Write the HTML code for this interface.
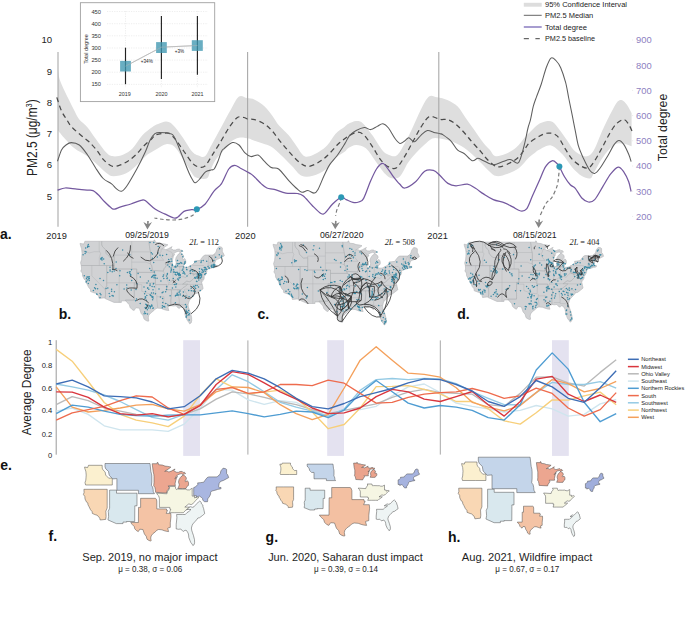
<!DOCTYPE html>
<html><head><meta charset="utf-8"><title>figure</title>
<style>html,body{margin:0;padding:0;background:#fff;} svg{display:block;} text{font-family:"Liberation Sans",sans-serif;}</style>
</head><body>
<svg width="685" height="618" viewBox="0 0 685 618">
<rect width="685" height="618" fill="#fff"/>
<path d="M58,69.7 C58.3,71.3 58.6,75.8 59.7,79.4 C60.8,83 63,87.5 64.6,91.1 C66.2,94.7 67.8,97.6 69.4,100.8 C71,104 72.7,107.4 74.3,110.5 C75.9,113.6 76.9,116.4 79.1,119.2 C81.3,122 84.7,124 87.4,127.2 C90.1,130.4 92.3,134.2 95.5,138.5 C98.7,142.8 103.8,150.1 106.8,153.1 C109.8,156.1 110.6,156 113.3,156.3 C116,156.6 119.8,156 123,154.7 C126.2,153.4 129.5,151.5 132.7,148.3 C135.9,145.1 139.2,138.8 142.4,135.3 C145.6,131.8 149.5,129.1 152.1,127.2 C154.7,125.3 155.8,124.9 158.1,124 C160.4,123.1 163.8,121.5 166.2,121.6 C168.6,121.7 170,122.2 172.7,124.8 C175.4,127.3 179.2,132.5 182.4,136.9 C185.6,141.3 189.4,148.4 192.1,151.5 C194.8,154.6 196.3,154.7 198.5,155.5 C200.7,156.3 202.8,158.1 205,156.3 C207.2,154.6 208.8,149.8 211.5,145 C214.2,140.2 218,133.1 221.2,127.2 C224.4,121.3 227.9,114.5 230.9,109.4 C233.9,104.3 236.3,98.4 239,96.5 C241.7,94.6 244.5,97.6 247.1,98.1 C249.7,98.6 251.8,98.3 254.7,99.7 C257.6,101.1 261.4,103.5 264.4,106.2 C267.4,108.9 270.1,112.7 272.5,115.9 C274.9,119.1 276.3,122.4 279,125.6 C281.7,128.8 285.7,131.8 288.7,135.3 C291.7,138.8 294.4,143.2 296.8,146.6 C299.2,150 301.2,153.9 303.3,155.5 C305.4,157.1 307,157 309.7,156.3 C312.4,155.6 316.4,153.4 319.4,151.5 C322.4,149.6 324.8,148 327.5,145 C330.2,142 332.7,136.8 335.6,133.7 C338.5,130.6 342.9,128 345,126.4 C347.1,124.8 346.2,124.9 348.1,124 C350,123.1 353.8,121.2 356.2,121.1 C358.6,121 360,120.8 362.7,123.2 C365.4,125.6 369.2,130.9 372.4,135.3 C375.6,139.8 379.4,146.7 382.1,149.9 C384.8,153.1 386.1,153.8 388.5,154.7 C390.9,155.6 393.9,157.4 396.6,155.5 C399.3,153.6 402,148.1 404.7,143.4 C407.4,138.7 410.1,132.9 412.8,127.2 C415.5,121.5 418.2,114.5 420.9,109.4 C423.6,104.3 426.3,98.5 429,96.5 C431.7,94.5 434,96.7 437.1,97.3 C440.2,97.9 444.5,98.7 447.9,100.2 C451.3,101.8 454.7,103.6 457.7,106.6 C460.7,109.6 463,114.2 465.7,118 C468.4,121.8 470.8,125.1 473.8,129.3 C476.8,133.5 480.8,139.6 483.5,143 C486.2,146.4 488.1,147.8 490,150 C491.9,152.2 492.5,155.2 494.9,155.9 C497.3,156.6 501.1,155.7 504.6,154.3 C508.1,153 512.4,150.8 515.9,147.8 C519.4,144.8 522.9,139.5 525.6,136.5 C528.3,133.5 530,132 532.1,130 C534.2,128 535.8,125.9 538.1,124.4 C540.5,122.9 543.8,121.6 546.2,121.2 C548.6,120.8 550.6,120.7 552.7,122 C554.9,123.3 556.7,126.2 559.1,129.3 C561.5,132.4 564.8,137.2 567.2,140.6 C569.6,144 571,147.4 573.7,150 C576.4,152.6 580.7,155.2 583.4,156 C586.1,156.8 588.1,156.3 590,155 C591.9,153.7 593.1,151.6 595,148 C596.9,144.4 598.6,139 601.2,133.2 C603.9,127.4 608.2,118.3 610.9,113.1 C613.6,107.9 615.5,103.9 617.4,101.8 C619.3,99.7 620.6,99.7 622.2,100.2 C623.8,100.7 625.5,102.8 627.1,105 C628.7,107.2 630.9,111.8 631.6,113.1 L631.6,146.2 C630.3,145.8 626.5,144.2 623.9,143.8 C621.3,143.4 618.5,142.6 615.8,143.8 C613.1,145 610.4,147.9 607.7,151 C605,154.1 602,158.5 599.6,162.4 C597.2,166.3 594.7,171.8 593.1,174.5 C591.5,177.2 591.8,178.2 589.9,178.5 C588,178.8 584.8,178 581.8,176.1 C578.8,174.2 575.3,170.8 572.1,167.2 C568.9,163.6 565.9,157.9 562.4,154.3 C558.9,150.7 554.8,146.2 551,145.4 C547.2,144.6 542.4,148.2 539.7,149.4 C537,150.6 536.8,151.3 535,152.7 C533.2,154 531.5,154.9 528.9,157.5 C526.2,160.1 522.6,165.3 519.1,168 C515.6,170.7 511.6,172.3 507.8,173.7 C504,175 499.7,176.6 496.5,176.1 C493.3,175.6 491.6,173.3 488.4,170.5 C485.2,167.7 481.2,162.9 477.1,159.1 C473.1,155.3 468.4,150.8 464.1,147.8 C459.8,144.8 455.2,142.9 451.2,141.3 C447.2,139.8 443.2,139 440,138.5 C436.8,138 434.8,137.4 432.2,138.5 C429.6,139.6 426.8,142.6 424.1,145 C421.4,147.4 418.7,150.1 416,153.1 C413.3,156.1 410.7,158.9 408,162.8 C405.3,166.7 402.6,174 399.9,176.6 C397.2,179.2 394.2,178.6 391.8,178.2 C389.4,177.8 388,176.9 385.3,174.1 C382.6,171.3 378.8,165.5 375.6,161.2 C372.4,156.9 369.1,151 365.9,148.3 C362.7,145.6 359.2,145 356.2,145 C353.2,145 350,147.2 348.1,148.3 C346.2,149.4 347.1,149.9 345,151.5 C342.9,153.1 338.8,155 335.6,158 C332.4,161 329.7,166.3 325.9,169.3 C322.1,172.3 317.1,174.7 313,175.8 C308.9,176.9 305.1,177.4 301.6,175.8 C298.1,174.2 295.4,169.5 291.9,166 C288.4,162.5 284.1,157.9 280.6,154.7 C277.1,151.5 273.9,148.5 270.9,146.6 C267.9,144.7 265.8,144.5 262.8,143.4 C259.8,142.3 255.4,141 253.1,140.2 C250.8,139.4 251,138.9 248.7,138.5 C246.3,138.1 242,137.1 239,137.7 C236,138.2 233.6,139.5 230.9,141.8 C228.2,144.1 225.5,148.3 222.8,151.5 C220.1,154.7 216.8,157.8 214.7,161.2 C212.6,164.6 211.3,169.1 210,172 C208.7,174.9 208.9,177.6 206.6,178.5 C204.3,179.4 198.7,178.8 196,177.5 C193.3,176.2 192.8,174.2 190.5,170.9 C188.2,167.7 185.1,162.1 182.4,158 C179.7,153.9 177,148.9 174.3,146.6 C171.6,144.3 168.9,143.9 166.2,144.2 C163.5,144.5 160.8,146.8 158.1,148.3 C155.4,149.8 152.1,151.8 150,153.1 C147.9,154.4 147.9,154.2 145.6,156.3 C143.2,158.5 139.1,163.2 135.9,166 C132.7,168.8 129.9,171.6 126.2,173.3 C122.5,175 116.6,176.3 113.4,176.3 C110.2,176.3 109.5,175.3 106.8,173.3 C104.1,171.3 100.3,167.2 97.1,164.4 C93.9,161.6 91.2,159 87.4,156.3 C83.6,153.6 78.2,151.3 74.4,148.3 C70.6,145.3 67.4,141.5 64.7,138.5 C62,135.5 59.1,131.8 58,130.5 Z" fill="#dedede" stroke="none"/>
<line x1="58" y1="52" x2="58" y2="226.8" stroke="#a9a9a9" stroke-width="1.1"/>
<line x1="247.6" y1="52" x2="247.6" y2="226.8" stroke="#a9a9a9" stroke-width="1.1"/>
<line x1="438.8" y1="52" x2="438.8" y2="226.8" stroke="#a9a9a9" stroke-width="1.1"/>
<path d="M56.8,97.4 C57.6,99.7 59.9,107.4 61.5,111 C63.1,114.6 64.9,116.6 66.5,119.2 C68.1,121.8 68.8,123.7 71.2,126.4 C73.6,129.1 77.9,132.7 80.9,135.3 C83.9,137.9 86.3,139.2 89,141.8 C91.7,144.4 94.7,147.7 97.1,150.7 C99.5,153.7 101.1,157 103.5,159.6 C105.9,162.2 108.9,165.1 111.6,166 C114.3,166.9 117,166 119.7,165.2 C122.4,164.4 125.1,162.9 127.8,161.2 C130.5,159.4 133.2,157.3 135.9,154.7 C138.6,152.1 141.3,148.5 144,145.8 C146.7,143.1 150.2,140.2 152,138.5 C153.8,136.8 153.3,136.1 154.9,135.3 C156.5,134.5 158.9,134 161.3,133.7 C163.7,133.4 167,132.3 169.4,133.4 C171.8,134.5 173.5,137.2 175.9,140.2 C178.3,143.2 181.3,147.7 184,151.5 C186.7,155.3 189.7,160.2 192.1,162.8 C194.5,165.4 196.3,166.4 198.5,166.9 C200.7,167.4 202.8,167.8 205,166 C207.2,164.2 209.1,160.1 211.5,156.3 C213.9,152.5 216.6,148.2 219.6,143.4 C222.6,138.6 226.3,131.5 229.3,127.2 C232.3,122.9 235,119.1 237.4,117.5 C239.8,115.9 242.2,117.2 243.9,117.5 C245.7,117.8 246.1,118.8 247.9,119.1 C249.7,119.4 251.9,118.8 254.7,119.6 C257.4,120.4 261.4,122 264.4,124 C267.4,126 269.8,128.3 272.5,131.3 C275.2,134.3 277.6,138.2 280.6,141.8 C283.6,145.4 287.1,149.6 290.3,153.1 C293.5,156.6 297,160.6 300,162.8 C303,165 305.1,166.4 308.1,166.4 C311.1,166.4 314.6,164.6 317.8,162.8 C321,161 324.3,158.5 327.5,155.5 C330.7,152.5 334.3,147.8 337.2,145 C340.1,142.2 342.9,140.1 345,138.5 C347.1,136.9 347.6,136.4 349.7,135.3 C351.8,134.2 355.4,132.1 357.8,132.1 C360.2,132.1 361.9,132.9 364.3,135.3 C366.7,137.7 369.7,142.6 372.4,146.6 C375.1,150.6 377.8,156.2 380.5,159.6 C383.2,163 385.8,165.6 388.5,166.9 C391.2,168.2 393.9,169.5 396.6,167.7 C399.3,165.9 402,160.6 404.7,156.3 C407.4,152 410.1,146.7 412.8,141.8 C415.5,137 418.2,131.4 420.9,127.2 C423.6,123 426.3,118.2 429,116.7 C431.7,115.2 435,117.8 437.1,118.3 C439.2,118.8 439.7,119.4 441.5,119.6 C443.3,119.8 445.5,118.8 447.9,119.6 C450.3,120.4 453.3,122.2 456,124.4 C458.7,126.6 461.4,129.5 464.1,132.5 C466.8,135.5 469.5,139.1 472.2,142.2 C474.9,145.3 478,148.4 480.3,151 C482.6,153.6 483.8,155.7 486,158 C488.2,160.3 491,163.3 493.3,164.8 C495.6,166.3 496.8,167.3 499.7,166.9 C502.6,166.5 507.8,164.1 511,162.4 C514.2,160.7 516.7,159.1 519.1,156.7 C521.5,154.3 523.8,150.2 525.6,147.8 C527.4,145.4 527.6,144.2 530,142.2 C532.4,140.2 537,137.5 539.7,136 C542.4,134.5 544.3,133.8 546.2,133.3 C548.1,132.8 549.5,133 551,133.2 C552.5,133.4 553.6,133.7 555,134.5 C556.4,135.3 557.3,135.6 559.1,138.1 C560.9,140.6 563.4,145.9 565.6,149.4 C567.8,152.9 569.7,156.4 572.1,159.1 C574.5,161.8 577.5,164.1 580.2,165.6 C582.9,167.1 585.9,168.8 588.3,168 C590.7,167.2 592.6,163.8 594.7,160.7 C596.9,157.6 599,153.3 601.2,149.4 C603.4,145.5 605.3,141.2 607.7,137 C610.1,132.8 613.1,127.3 615.8,124.4 C618.5,121.5 621.8,119.6 623.9,119.6 C626,119.6 627.4,122.5 628.7,124.4 C630,126.3 631.4,129.8 631.9,130.9" fill="none" stroke="#4a4a4a" stroke-width="1.25" stroke-dasharray="5 3.6"/>
<path d="M57.5,161.2 C58.2,159.3 60.1,152.6 61.5,149.9 C62.9,147.2 64.4,146.2 66,145 C67.6,143.8 69,142.6 71.2,142.6 C73.4,142.6 76.6,143 79.3,145 C82,147 84.7,150.9 87.4,154.7 C90.1,158.5 92.9,163.7 95.5,167.7 C98.1,171.7 100.5,175.8 103.2,178.5 C105.9,181.2 109.4,182.2 111.6,183.9 C113.8,185.6 114.7,187.5 116.3,188.7 C117.9,189.9 119.7,191.7 121.4,191.3 C123.1,190.9 123.9,190.2 126.5,186.5 C129.1,182.8 133.6,174.8 136.8,169 C140,163.2 143.3,156.3 145.5,151.5 C147.7,146.7 148.4,143.2 150,140.2 C151.6,137.2 153.3,135 154.9,133.7 C156.5,132.4 157.3,132.4 159.7,132.4 C162.1,132.4 167,132.7 169.4,133.4 C171.8,134.2 172.1,133.1 174.3,136.9 C176.5,140.7 180,150.4 182.4,156.3 C184.8,162.2 187,168.4 188.8,172.5 C190.6,176.6 192,179 193.1,180.7 C194.2,182.4 194.2,183.1 195.3,182.8 C196.4,182.6 197.9,181 199.6,179.2 C201.3,177.4 203.6,173.4 205.5,171.9 C207.4,170.4 209.6,170.5 211,170 C212.4,169.5 213,170.5 214.2,169 C215.4,167.5 216.8,164.1 218,161.2 C219.2,158.3 220.4,153.7 221.5,151.5 C222.6,149.3 222.6,149.8 224.4,148.3 C226.2,146.8 230.1,143.2 232.5,142.6 C234.9,142 236.9,143.3 239,145 C241.1,146.7 243,151 245,152.9 C247,154.8 248.6,156.2 250.8,156.6 C253,157 255.9,154.4 258.1,155.1 C260.3,155.8 261.8,158.8 264,160.9 C266.2,163 268.9,166.2 271.3,167.5 C273.7,168.8 275.7,166.8 278.6,169 C281.5,171.2 285.9,177.5 288.8,180.7 C291.7,183.9 293.9,186.1 296.1,188 C298.3,189.9 299.9,191.9 301.9,192.3 C303.8,192.7 305.7,190.5 307.8,190.6 C309.9,190.7 312.6,193.3 314.3,193.1 C316,192.9 316.4,192.2 318,189.4 C319.6,186.6 321.9,180.4 323.8,176.3 C325.8,172.2 327.5,168 329.7,164.6 C331.9,161.2 334.4,159.3 337,155.8 C339.6,152.3 342.9,146.8 345,143.4 C347.1,140 347.8,137.5 349.7,135.3 C351.6,133.2 353.8,131.8 356.2,130.5 C358.6,129.2 361.9,127.7 364.3,127.5 C366.7,127.3 368.6,129.8 370.7,129.6 C372.8,129.4 375.2,127.4 377.2,126.4 C379.2,125.4 381,123.4 382.9,123.7 C384.8,124 386.5,125.5 388.5,128 C390.5,130.5 393.1,135.9 395,138.5 C396.9,141.1 398.3,143 399.9,143.4 C401.5,143.8 403.2,141.9 404.7,141 C406.2,140.1 407.2,137.6 408.8,137.7 C410.4,137.8 412.4,142.2 414.4,141.8 C416.4,141.4 418.7,137.2 420.9,135.3 C423.1,133.4 425.2,131 427.4,130.5 C429.6,130 431.8,131.9 433.9,132.4 C436,132.9 438.5,133.3 440,133.7 C441.5,134.1 441.2,133.6 443.1,134.9 C445,136.2 448.8,138.8 451.2,141.3 C453.6,143.9 455.5,148.2 457.7,150.2 C459.9,152.2 461.7,151.8 464.1,153.5 C466.5,155.2 469.9,159.9 472.2,160.7 C474.5,161.5 476,158.3 477.9,158.3 C479.8,158.3 480.9,159.6 483.5,160.7 C486.1,161.8 490.1,164.7 493.3,164.8 C496.6,165 500.2,162.5 503,161.6 C505.8,160.7 507.8,159.3 510.2,159.6 C512.6,159.9 515.7,163.5 517.5,163.2 C519.3,162.8 519.6,160.9 520.8,157.5 C522,154.1 523.6,147.8 524.8,142.9 C526,138 527,131.9 528,128 C529,124.1 529.6,123.2 530.5,119.6 C531.4,116 532.2,110.4 533.2,106.6 C534.2,102.8 535.1,100.7 536.5,96.9 C537.9,93.1 539.7,88.8 541.3,84 C542.9,79.2 544.6,72.1 546.2,67.8 C547.8,63.5 549.4,59.3 551,58.1 C552.6,56.9 554.3,58.9 555.9,60.5 C557.5,62.1 559.1,64.1 560.7,67.8 C562.3,71.5 564.2,77.3 565.6,82.4 C567,87.5 567.7,93.1 568.8,98.5 C569.9,103.9 571,109.3 572.1,114.7 C573.2,120.1 574.2,125.7 575.3,130.9 C576.4,136.2 577.1,141.6 578.5,146.2 C579.9,150.8 581.5,154.2 583.4,158.3 C585.3,162.4 588,168 589.9,170.5 C591.8,173 593.1,173.7 594.7,173.4 C596.3,173.1 597.4,171.7 599.6,168.8 C601.8,165.9 605.3,159.9 607.7,155.9 C610.1,151.9 612.2,147.2 614.1,144.6 C616,142 617.4,140.5 619,140.5 C620.6,140.5 622.3,142.3 623.9,144.6 C625.5,146.9 627.5,151.5 628.7,154.3 C629.9,157.1 630.7,160.4 631.1,161.6" fill="none" stroke="#5e5e5e" stroke-width="1.05"/>
<path d="M57.5,190.1 C58.8,189.8 62,188.2 65.2,188 C68.4,187.8 73.2,188.8 76.9,189.1 C80.6,189.4 84.4,189.8 87.1,190.1 C89.8,190.3 91,189.7 93,190.6 C95,191.5 96.9,193.4 98.8,195.3 C100.7,197.2 102.4,199.6 104.6,201.8 C106.8,204 110.2,207.2 111.9,208.4 C113.6,209.6 113.4,209.3 114.9,209.1 C116.4,208.8 118,207.8 120.7,206.9 C123.4,206.1 128,204.9 130.9,204 C133.8,203.1 136.1,202 138,201.3 C139.9,200.7 141,200.2 142.2,200.1 C143.4,200 143,199.1 145.2,200.6 C147.4,202.1 152.2,207.1 155.4,209.3 C158.6,211.5 161.5,212.5 164.6,213.9 C167.7,215.3 171.6,217.5 173.8,218 C176,218.5 176.2,218.1 177.9,217 C179.6,215.9 181.9,212.6 184,211.4 C186.1,210.2 188.1,210.2 190.2,209.8 C192.3,209.5 194.3,210.2 196.8,209.3 C199.3,208.4 202.1,207.3 205,204.2 C207.9,201.1 211.4,194.3 214.2,190.9 C216.9,187.5 219.1,187.2 221.5,183.6 C223.9,179.9 226.6,172.1 228.8,169 C231,165.9 232.8,165.4 234.7,165.3 C236.6,165.2 237.9,166.8 240.5,168.2 C243.1,169.5 247.8,172.1 250,173.4 C252.2,174.8 252,174.6 253.8,176.3 C255.7,178 258.9,181.7 261.1,183.6 C263.3,185.5 264.7,187 266.9,188 C269.1,189 271,188.6 274.2,189.4 C277.4,190.2 282,192.4 285.9,193.1 C289.8,193.8 294.7,193 297.6,193.5 C300.5,194 301,194 303.4,196 C305.8,198 309.3,202.6 312.2,205.5 C315.1,208.4 318.7,212.3 320.9,213.5 C323.1,214.7 323.4,214.4 325.3,212.8 C327.2,211.2 330,206.6 332.6,204 C335.2,201.4 338.9,198 341.2,197.3 C343.4,196.6 344.2,198.8 346.1,199.6 C348.1,200.4 350.8,201.9 352.9,202.3 C355,202.7 356.9,202.6 358.7,202 C360.5,201.4 361.5,202.2 363.5,198.6 C365.5,195 368.5,185.6 370.7,180.7 C372.9,175.8 374.7,171.8 376.5,169 C378.3,166.2 380.1,164.2 381.6,163.6 C383.1,163 383.5,163.3 385.3,165.3 C387.1,167.3 390.2,172.3 392.6,175.5 C395,178.7 397.8,182.2 399.9,184.3 C402,186.4 402.3,188.5 405,188 C407.7,187.5 412.6,184.2 415.9,181.4 C419.2,178.6 421.8,173 424.7,171.2 C427.6,169.4 430.8,169.7 433.4,170.4 C435.9,171.1 437.6,173.3 440,175.5 C442.4,177.7 445.2,181.7 447.9,183.4 C450.6,185.1 452.8,185.7 456,185.8 C459.2,185.9 464.1,183.8 467.4,184.2 C470.6,184.6 472.8,186.7 475.5,188.3 C478.2,189.9 480.5,192 483.5,193.9 C486.5,195.8 489.8,198.1 493.3,199.6 C496.8,201.1 501.4,201.6 504.6,202.8 C507.8,204 510,205.5 512.7,206.9 C515.4,208.3 518.5,210.7 520.8,211 C523.1,211.3 524.6,211.4 526.6,208.9 C528.6,206.4 530.3,200.7 532.5,195.8 C534.7,190.9 537.5,184.6 539.7,179.7 C541.9,174.8 543.5,169.8 545.6,166.6 C547.7,163.4 550.2,161.3 552.1,160.8 C554,160.3 556,162.7 557.2,163.7 C558.4,164.7 558.2,164.4 559.4,166.6 C560.6,168.8 562.7,173.8 564.5,176.8 C566.3,179.8 568.5,182.9 570.3,184.8 C572.1,186.7 573.4,186.1 575.3,188.3 C577.2,190.5 579.6,195.7 581.8,198 C584,200.3 586.1,201.7 588.3,202 C590.4,202.3 592.3,202.2 594.7,199.6 C597.1,197 600.1,190.9 602.8,186.6 C605.5,182.3 608.3,176.9 610.9,173.7 C613.5,170.5 616,167.5 618.2,167.2 C620.4,166.9 622.1,169.7 623.9,172.1 C625.6,174.5 627.5,178.6 628.7,181.8 C629.9,185 630.7,189.9 631.1,191.5" fill="none" stroke="#74599f" stroke-width="1.25"/>
<path d="M196.8,209.3 C196.2,210.2 195.3,213.3 193.2,214.9 C191.1,216.5 187.2,217.8 184,218.7 C180.8,219.5 177.2,219.9 173.8,220 C170.4,220.1 166.8,219.8 163.6,219.5 C160.4,219.2 155.9,218.2 154.4,218" fill="none" stroke="#7a7a7a" stroke-width="1.2" stroke-dasharray="3.6 2.6"/>
<path d="M341.2,197.3 C341,198.1 340.7,199.8 340,202 C339.3,204.2 337.5,207.9 336.8,210.2 C336.1,212.5 335.8,215 335.6,216" fill="none" stroke="#7a7a7a" stroke-width="1.2" stroke-dasharray="3.6 2.6"/>
<path d="M559.4,166.6 C559.3,168.1 559.1,172.2 558.7,175.4 C558.3,178.6 558.3,182 557.2,185.6 C556.1,189.2 553.9,194.3 552.1,197.2 C550.3,200.1 548.1,200.3 546.3,203 C544.5,205.7 542.3,211 541.2,213.2 C540.1,215.4 540,215.5 539.8,216" fill="none" stroke="#7a7a7a" stroke-width="1.2" stroke-dasharray="3.6 2.6"/>
<path d="M143.4,222.1 L147.7,224.4 L152,222.1 L147.4,229.4 Z" fill="#858585"/>
<line x1="148" y1="221" x2="147.8" y2="225" stroke="#858585" stroke-width="1.6"/>
<path d="M331.2,222 L335.5,224.3 L339.8,222 L335.2,229.3 Z" fill="#858585"/>
<line x1="335.8" y1="220.9" x2="335.6" y2="224.9" stroke="#858585" stroke-width="1.6"/>
<path d="M534.6,220.6 L538.9,222.9 L543.2,220.6 L538.6,227.9 Z" fill="#858585"/>
<line x1="539.2" y1="219.5" x2="539" y2="223.5" stroke="#858585" stroke-width="1.6"/>
<circle cx="196.8" cy="209.3" r="3" fill="#2b98b5"/>
<circle cx="341.2" cy="197.3" r="3" fill="#2b98b5"/>
<circle cx="559.4" cy="166.6" r="3" fill="#2b98b5"/>
<text x="52.2" y="199.7" font-size="9.6" text-anchor="end" fill="#222" >5</text>
<text x="52.2" y="168.4" font-size="9.6" text-anchor="end" fill="#222" >6</text>
<text x="52.2" y="137.1" font-size="9.6" text-anchor="end" fill="#222" >7</text>
<text x="52.2" y="105.9" font-size="9.6" text-anchor="end" fill="#222" >8</text>
<text x="52.2" y="74.6" font-size="9.6" text-anchor="end" fill="#222" >9</text>
<text x="52.2" y="43.3" font-size="9.6" text-anchor="end" fill="#222" >10</text>
<text x="636" y="43.3" font-size="9.4" text-anchor="start" fill="#8d7fbf" >900</text>
<rect x="632.3" y="39.5" width="0.8" height="1" fill="#e4e4e4"/>
<text x="636" y="68.5" font-size="9.4" text-anchor="start" fill="#8d7fbf" >800</text>
<rect x="632.3" y="64.7" width="0.8" height="1" fill="#e4e4e4"/>
<text x="636" y="93.7" font-size="9.4" text-anchor="start" fill="#8d7fbf" >700</text>
<rect x="632.3" y="89.9" width="0.8" height="1" fill="#e4e4e4"/>
<text x="636" y="118.9" font-size="9.4" text-anchor="start" fill="#8d7fbf" >600</text>
<rect x="632.3" y="115.1" width="0.8" height="1" fill="#e4e4e4"/>
<text x="636" y="144.1" font-size="9.4" text-anchor="start" fill="#8d7fbf" >500</text>
<rect x="632.3" y="140.3" width="0.8" height="1" fill="#e4e4e4"/>
<text x="636" y="169.3" font-size="9.4" text-anchor="start" fill="#8d7fbf" >400</text>
<rect x="632.3" y="165.5" width="0.8" height="1" fill="#e4e4e4"/>
<text x="636" y="194.5" font-size="9.4" text-anchor="start" fill="#8d7fbf" >300</text>
<rect x="632.3" y="190.7" width="0.8" height="1" fill="#e4e4e4"/>
<text x="636" y="219.7" font-size="9.4" text-anchor="start" fill="#8d7fbf" >200</text>
<rect x="632.3" y="215.9" width="0.8" height="1" fill="#e4e4e4"/>
<text transform="translate(37.3,137.6) rotate(-90)" font-size="13.8" text-anchor="middle" fill="#222" textLength="76.6" lengthAdjust="spacingAndGlyphs">PM2.5 (μg/m<tspan font-size="8.5" dy="-5">3</tspan><tspan dy="5">)</tspan></text>
<text transform="translate(667.4,127.5) rotate(-90)" font-size="13.2" text-anchor="middle" fill="#222" textLength="67.4" lengthAdjust="spacingAndGlyphs">Total degree</text>
<text x="56.6" y="239.3" font-size="9.5" text-anchor="middle" fill="#222" textLength="20.6" lengthAdjust="spacingAndGlyphs" >2019</text>
<text x="245.3" y="239.3" font-size="9.5" text-anchor="middle" fill="#222" textLength="20.6" lengthAdjust="spacingAndGlyphs" >2020</text>
<text x="437.6" y="239.3" font-size="9.5" text-anchor="middle" fill="#222" textLength="20.6" lengthAdjust="spacingAndGlyphs" >2021</text>
<text x="147" y="237.6" font-size="9" text-anchor="middle" fill="#222" textLength="43.6" lengthAdjust="spacingAndGlyphs" >09/25/2019</text>
<text x="341.7" y="237.6" font-size="9" text-anchor="middle" fill="#222" textLength="43.6" lengthAdjust="spacingAndGlyphs" >06/27/2020</text>
<text x="534.8" y="237.6" font-size="9" text-anchor="middle" fill="#222" textLength="43.6" lengthAdjust="spacingAndGlyphs" >08/15/2021</text>
<rect x="523.8" y="2.8" width="17.9" height="3.9" fill="#dddddd"/>
<line x1="523.8" y1="15.3" x2="541.7" y2="15.3" stroke="#555" stroke-width="0.9"/>
<line x1="523.8" y1="27" x2="541.7" y2="27" stroke="#8a7cc0" stroke-width="1.5"/>
<line x1="523.8" y1="38.7" x2="528.9" y2="38.7" stroke="#444" stroke-width="1"/>
<line x1="535.4" y1="38.7" x2="539.8" y2="38.7" stroke="#444" stroke-width="1"/>
<text x="545" y="7.4" font-size="7.6" text-anchor="start" fill="#222" textLength="82" lengthAdjust="spacingAndGlyphs" >95% Confidence Interval</text>
<text x="545" y="18" font-size="7.6" text-anchor="start" fill="#222" textLength="48.2" lengthAdjust="spacingAndGlyphs" >PM2.5 Median</text>
<text x="545" y="29.7" font-size="7.6" text-anchor="start" fill="#222" textLength="42" lengthAdjust="spacingAndGlyphs" >Total degree</text>
<text x="545" y="41.4" font-size="7.6" text-anchor="start" fill="#222" textLength="50" lengthAdjust="spacingAndGlyphs" >PM2.5 baseline</text>
<rect x="80.4" y="2.7" width="134.3" height="98.9" fill="#fff" stroke="#a0a0a0" stroke-width="0.9"/>
<line x1="107" y1="84.4" x2="208" y2="84.4" stroke="#e2e2e2" stroke-width="0.6" stroke-dasharray="1.2 1.2"/>
<text x="101" y="86.4" font-size="5.8" text-anchor="end" fill="#333" textLength="9.6" lengthAdjust="spacingAndGlyphs" >150</text>
<line x1="107" y1="72.2" x2="208" y2="72.2" stroke="#e2e2e2" stroke-width="0.6" stroke-dasharray="1.2 1.2"/>
<text x="101" y="74.2" font-size="5.8" text-anchor="end" fill="#333" textLength="9.6" lengthAdjust="spacingAndGlyphs" >200</text>
<line x1="107" y1="60.1" x2="208" y2="60.1" stroke="#e2e2e2" stroke-width="0.6" stroke-dasharray="1.2 1.2"/>
<text x="101" y="62.1" font-size="5.8" text-anchor="end" fill="#333" textLength="9.6" lengthAdjust="spacingAndGlyphs" >250</text>
<line x1="107" y1="48" x2="208" y2="48" stroke="#e2e2e2" stroke-width="0.6" stroke-dasharray="1.2 1.2"/>
<text x="101" y="50" font-size="5.8" text-anchor="end" fill="#333" textLength="9.6" lengthAdjust="spacingAndGlyphs" >300</text>
<line x1="107" y1="35.8" x2="208" y2="35.8" stroke="#e2e2e2" stroke-width="0.6" stroke-dasharray="1.2 1.2"/>
<text x="101" y="37.8" font-size="5.8" text-anchor="end" fill="#333" textLength="9.6" lengthAdjust="spacingAndGlyphs" >350</text>
<line x1="107" y1="23.7" x2="208" y2="23.7" stroke="#e2e2e2" stroke-width="0.6" stroke-dasharray="1.2 1.2"/>
<text x="101" y="25.7" font-size="5.8" text-anchor="end" fill="#333" textLength="9.6" lengthAdjust="spacingAndGlyphs" >400</text>
<line x1="107" y1="11.5" x2="208" y2="11.5" stroke="#e2e2e2" stroke-width="0.6" stroke-dasharray="1.2 1.2"/>
<text x="101" y="13.5" font-size="5.8" text-anchor="end" fill="#333" textLength="9.6" lengthAdjust="spacingAndGlyphs" >450</text>
<line x1="125.5" y1="11" x2="125.5" y2="88" stroke="#e2e2e2" stroke-width="0.6" stroke-dasharray="1.2 1.2"/>
<line x1="161.4" y1="11" x2="161.4" y2="88" stroke="#e2e2e2" stroke-width="0.6" stroke-dasharray="1.2 1.2"/>
<line x1="197.4" y1="11" x2="197.4" y2="88" stroke="#e2e2e2" stroke-width="0.6" stroke-dasharray="1.2 1.2"/>
<text transform="translate(88.3,49) rotate(-90)" font-size="5.6" text-anchor="middle" fill="#333" textLength="29.6" lengthAdjust="spacingAndGlyphs">Total degree</text>
<polyline points="125.5,66.2 161.4,47.2 197.4,45.5" fill="none" stroke="#a8a8a8" stroke-width="0.8"/>
<line x1="125.5" y1="47.7" x2="125.5" y2="84.2" stroke="#222" stroke-width="1.15"/>
<line x1="161.4" y1="16.1" x2="161.4" y2="79" stroke="#222" stroke-width="1.15"/>
<line x1="197.4" y1="16.1" x2="197.4" y2="74.7" stroke="#222" stroke-width="1.15"/>
<rect x="120.1" y="60.9" width="10.8" height="10.6" fill="#3f97b1" fill-opacity="0.78"/>
<rect x="156.1" y="42.1" width="10.7" height="10.9" fill="#3f97b1" fill-opacity="0.78"/>
<rect x="191.8" y="40.2" width="11" height="10.7" fill="#3f97b1" fill-opacity="0.78"/>
<polyline points="125.5,66.2 161.4,47.2 197.4,45.5" fill="none" stroke="#c4c4c4" stroke-width="0.7" stroke-opacity="0.7"/>
<text x="146.8" y="62.8" font-size="5.6" text-anchor="middle" fill="#222" textLength="12" lengthAdjust="spacingAndGlyphs" >+34%</text>
<text x="179.4" y="53" font-size="5.6" text-anchor="middle" fill="#222" textLength="9.4" lengthAdjust="spacingAndGlyphs" >+3%</text>
<text x="124.8" y="96.3" font-size="5.6" text-anchor="middle" fill="#333" textLength="12" lengthAdjust="spacingAndGlyphs" >2019</text>
<text x="161.4" y="96.3" font-size="5.6" text-anchor="middle" fill="#333" textLength="12" lengthAdjust="spacingAndGlyphs" >2020</text>
<text x="197.4" y="96.3" font-size="5.6" text-anchor="middle" fill="#333" textLength="12" lengthAdjust="spacingAndGlyphs" >2021</text>
<path d="M80.1,243.4 L83.8,244.1 L84.9,241.3 L154,241.3 L154,240 L154.9,240.3 L155.4,242.3 L159.3,242.7 L161.8,243.7 L164.9,244.1 L167.9,244.8 L166.1,246.1 L163.3,247.9 L161.6,249.1 L163.8,248.7 L165.8,249.7 L168.3,248.8 L170.4,247.5 L172.1,246.7 L170.8,248.4 L173.3,250 L175.4,250.1 L177.1,249.3 L179.3,249.1 L180.4,250.1 L181.6,250 L182.9,251.3 L180.8,251.9 L180.1,252.2 L178.3,251.3 L176.1,252 L174.6,252.7 L172.9,254.8 L171.8,256.7 L173.1,255.5 L174.6,254.1 L173.3,256.5 L172.9,258.3 L172.1,261.4 L172.4,263.8 L172.9,265.9 L173.6,266.9 L174.9,266.4 L175.6,265.2 L176.3,262.8 L175.6,260 L176.1,257.6 L177.4,255.5 L178.1,254.4 L179.3,253.8 L180.1,252.4 L181.6,253.4 L183.3,255 L183.6,256.9 L182.1,258.9 L183.1,259.6 L184.5,258.4 L185.6,260 L185.8,262.1 L185.6,263.4 L184.1,264.5 L183.2,266.5 L185.1,267.2 L187.6,267.2 L190.6,265.6 L192.4,264.8 L194.6,262.4 L194.3,261 L196.8,260.8 L200.4,260.3 L201.3,258.6 L203.6,255.8 L205.1,255.1 L213.1,255.1 L214.1,254.1 L214.8,253.8 L216.1,252 L216.8,249.3 L218.8,246.7 L221.1,247 L222.3,247.9 L222.3,252 L223.3,253.1 L224.3,255.8 L221.8,257.2 L219.3,258.6 L216.3,259.6 L215.1,261.7 L214.8,263.1 L214.6,264.1 L215.4,265.9 L216.8,265.3 L217,266.6 L215.6,267.1 L213.8,267.2 L212.1,267.9 L207.9,269 L206.8,270.4 L206.8,271.7 L206.1,273.8 L204.6,276.1 L204.1,276.6 L204.1,278.3 L203.8,279.4 L202.9,281.1 L201.8,282.5 L201.8,283.2 L202.4,285.2 L203.1,288.7 L200.6,290.8 L197.4,293.2 L195.4,293.5 L193.8,295.6 L191.8,297.7 L189.6,300.1 L188.8,301.9 L188.1,304.6 L188.3,307 L189.3,309.8 L190.4,312.6 L191.6,317.4 L191.7,320.9 L191.1,323 L189.6,323.8 L188.8,322.3 L187.4,320.5 L186.3,318.1 L185.1,315 L184.9,312.2 L184.3,310.2 L182.6,307.4 L180.8,307 L179.3,308.3 L178.3,308.1 L176.1,305.7 L173.1,306 L171.8,305.7 L170.8,305.7 L168.3,306.3 L167.9,306.7 L168.3,308.8 L168.8,310.5 L166.3,310.2 L163.8,309.5 L161.1,308.4 L157.4,308.1 L155.1,309.1 L153.6,310.8 L150.8,312.9 L148.8,315.3 L148.3,317.8 L148.8,320.9 L148.1,321.2 L146.1,320.5 L144.1,319.1 L143.1,315.7 L141.1,313.3 L139.3,308.1 L135.8,307.7 L134.1,310.5 L132.1,309.5 L130.1,307.4 L129.3,304.6 L126.8,302.2 L125.6,300.8 L121.3,300.8 L121.3,302.4 L114.1,302.4 L104.9,298.4 L105.1,297.7 L99.1,298.4 L98.6,296.3 L96.8,294.2 L95.6,293.2 L93.8,292.7 L90.6,291.5 L90.4,289.4 L88.6,287.3 L87.1,284.2 L85.8,282.1 L85.6,280.1 L84.3,279.4 L82.6,275.9 L82.4,273.1 L80.8,271.1 L81.6,269 L81.3,265.5 L80.6,262.8 L81.6,259.6 L81.8,256.5 L82.1,253.4 L81.8,250.6 L81.6,248.6 L80.4,245.1 Z" fill="#d1d2d4" stroke="#c8c8ca" stroke-width="0.4"/>
<path d="M81.8,250.8 L84.3,251 L89.3,252.9 L94.3,251.7 L99.6,251.7M99.2,241.3 L99.2,250.3 L99.6,251.7 L100.6,253.4 L99.3,257.6 L99.3,265.5M91.8,265.5 L91.8,275.9 L105.4,289.7M114.2,255.1 L131.7,255.1M114.2,256.9 L114.2,255.1M131.7,241.3 L131.7,269M131.7,251.9 L150.4,251.9M131.7,262.1 L145.6,262.1 L150.4,263.8M119.2,269 L119.2,302.4M106.7,282.8 L136.7,282.8M136.7,282.8 L155.4,282.8M134.3,284.6 L141.8,284.6 L141.8,291.3 L149.3,293.9 L155.6,294.6M156.8,294.8 L156.8,300.2 L157.4,303.6 L157.6,307.7M155.7,284.6 L155.8,288.4 L155.6,294.4M156.8,296.7 L164,296.7M164,296.7 L163.8,300.1 L162.9,303.6 L167.5,303.6 L167.9,306.3M150.7,260.3 L163.8,260.3M161.1,249.3 L161.1,251.3 L159.9,253.1 L160.1,255.8 L163.8,260.3M165.8,249.7 L169.3,251.3 L171.8,252.4 L172.9,254.8M163.3,271.1 L165.4,275.9 L166.3,277.3 L168.1,281.8 L169.1,282.9M173,266.4 L173,276.9 L172.1,280.1 L171.6,281.1M179.8,266.6 L179.8,275.6M169.1,282.9 L171.6,281.1 L174.3,279.7 L176.8,279.4 L177.4,278.3 L179.3,276.9 L179.8,275.6 L181.8,276.6 L184.3,276.9 L185.4,278 L186.8,275.9 L188.1,274.9 L189.6,273.5 L190.4,270.4M168.1,284.6 L182.6,284.2M169.1,282.9 L168.1,284.6 L167.6,286.3M177.9,289.7 L178.8,297.4 L179.3,300.1 L179.3,303.6M172.9,303.6 L179.3,303.6 L179.6,304.6 L186.3,305 L186.8,304.3 L188.1,304.6M184.1,289.7 L186.3,293.2 L189.3,299.8M184.1,289.7 L185.8,289 L189.3,289.4 L189.6,289.7 L191.6,290.4 L192.6,290.4 L195.6,293.7M187.6,284.4 L202.1,284.4M192.4,265.5 L203.5,265.5 L204.1,266.2 L205.1,267.8 L206.8,269M205.1,267.8 L204.1,269.7 L203.8,271.7 L203.1,273.1M190.6,273.4 L202.4,273.4M202.4,273.4 L202.4,277.8 L204.2,277.8M208.5,255.1 L208.6,260 L208.7,262.9M213.1,255.1 L211.8,257.6 L210.6,261 L210.7,263M208.7,263 L214.6,262.5M208.1,265.3 L213.3,265.5M208.1,262.9 L208.1,268.6M212.3,265.5 L212.3,267.9M214.2,254.1 L214.4,259.3 L215.1,261.7M80.1,243.4 L83.8,244.1 L84.9,241.3 L101.7,241.3 L101.7,244.8 L102.6,246.8 L105.4,249.4 L106.1,253.4 L108.2,255.5 L109.9,257.2 L114.2,256.9 L114.2,265.5 L99.3,265.5 L81.3,265.5 L80.6,262.8 L81.6,259.6 L81.8,256.5 L82.1,253.4 L81.8,250.6 L81.6,248.6 L80.4,245.1ZM101.7,241.3 L148.8,241.3 L149.9,249.6 L150.5,252 L150.7,254.1 L150.7,260.3 L150.4,263.8 L151.6,265.5 L152.1,267.9 L152.4,270.4 L153.6,272.4 L136.7,272.4 L136.7,269 L114.2,269 L114.2,256.9 L109.9,257.2 L108.2,255.5 L106.1,253.4 L105.4,249.4 L102.6,246.8 L101.7,244.8ZM81.3,265.5 L91.8,265.5 L106.7,265.5 L106.7,282.8 L106.7,285.6 L105.2,289 L105.4,290.1 L105.6,294.6 L105.1,297.7 L99.1,298.4 L98.6,296.3 L96.8,294.2 L95.6,293.2 L93.8,292.7 L90.6,291.5 L90.4,289.4 L88.6,287.3 L87.1,284.2 L85.8,282.1 L85.6,280.1 L84.3,279.4 L82.6,275.9 L82.4,273.1 L80.8,271.1 L81.6,269ZM106.7,265.5 L114.2,265.5 L114.2,269 L136.7,269 L136.7,282.8 L134.3,282.8 L134.3,284.6 L134.2,300.1 L125.4,300.1 L125.6,300.8 L121.3,300.8 L121.3,302.4 L114.1,302.4 L104.9,298.4 L105.1,297.7 L105.6,294.6 L105.4,290.1 L105.2,289 L106.7,285.6 L106.7,282.8ZM136.7,272.4 L153.6,272.4 L154.6,273.1 L155.4,275.6 L155.4,284.6 L166.5,284.6 L166.6,286.3 L167.6,286.3 L166.1,289.7 L171.3,289.7 L171.6,293.2 L170.8,300.5 L170.8,305.7 L168.3,306.3 L167.9,306.7 L168.3,308.8 L168.8,310.5 L166.3,310.2 L163.8,309.5 L161.1,308.4 L157.4,308.1 L155.1,309.1 L153.6,310.8 L150.8,312.9 L148.8,315.3 L148.3,317.8 L148.8,320.9 L148.1,321.2 L146.1,320.5 L144.1,319.1 L143.1,315.7 L141.1,313.3 L139.3,308.1 L135.8,307.7 L134.1,310.5 L132.1,309.5 L130.1,307.4 L129.3,304.6 L126.8,302.2 L125.4,300.1 L134.2,300.1 L134.3,284.6 L134.3,282.8 L136.7,282.8ZM148.8,241.3 L154,241.3 L154,240 L154.9,240.3 L155.4,242.3 L159.3,242.7 L161.8,243.7 L164.9,244.1 L167.9,244.8 L166.1,246.1 L163.3,247.9 L161.6,249.1 L163.8,248.7 L165.8,249.7 L168.3,248.8 L170.4,247.5 L172.1,246.7 L170.8,248.4 L173.3,250 L175.4,250.1 L177.1,249.3 L179.3,249.1 L180.4,250.1 L181.6,250 L182.9,251.3 L180.8,251.9 L180.1,252.2 L178.3,251.3 L176.1,252 L174.6,252.7 L172.9,254.8 L171.8,256.7 L173.1,255.5 L174.6,254.1 L173.3,256.5 L172.9,258.3 L172.1,261.4 L172.4,263.8 L165.2,263.8 L166.3,265.2 L165.4,267.2 L164.1,268.6 L163.3,271.1 L152.4,270.4 L152.1,267.9 L151.6,265.5 L150.4,263.8 L150.7,260.3 L150.7,254.1 L150.5,252 L149.9,249.6ZM174.9,266.4 L175.6,265.2 L176.3,262.8 L175.6,260 L176.1,257.6 L177.4,255.5 L178.1,254.4 L179.3,253.8 L180.1,252.4 L181.6,253.4 L183.3,255 L183.6,256.9 L182.1,258.9 L183.1,259.6 L184.5,258.4 L185.6,260 L185.8,262.1 L185.6,263.4 L184.1,264.5 L183.2,266.5 L179.9,266.6ZM172.4,263.8 L172.9,265.9 L173.6,266.9 L174.9,266.4 L179.9,266.6 L183.2,266.5 L185.1,267.2 L187.6,267.2 L190.6,265.6 L190.6,270.2 L190.6,273.4 L193.1,273.4 L193.1,275.2 L195.8,273.8 L197.6,274.9 L196.1,275.9 L194.3,277.6 L192.4,279.7 L191.1,281.1 L189.3,281.8 L186.8,281.1 L182.6,284.2 L187.6,284.2 L185.4,286.3 L183.1,287.7 L181.1,289.7 L177.9,289.7 L171.3,289.7 L166.1,289.7 L167.6,286.3 L166.6,286.3 L166.5,284.6 L155.4,284.6 L155.4,275.6 L154.6,273.1 L153.6,272.4 L152.4,270.4 L163.3,271.1 L164.1,268.6 L165.4,267.2 L166.3,265.2 L165.2,263.8ZM197.6,274.9 L199.1,276.2 L199.3,278 L201.1,279.4 L201.1,281.1 L201.8,283.2 L202.4,285.2 L203.1,288.7 L200.6,290.8 L197.4,293.2 L195.4,293.5 L193.8,295.6 L191.8,297.7 L189.6,300.1 L188.8,301.9 L188.1,304.6 L188.3,307 L189.3,309.8 L190.4,312.6 L191.6,317.4 L191.7,320.9 L191.1,323 L189.6,323.8 L188.8,322.3 L187.4,320.5 L186.3,318.1 L185.1,315 L184.9,312.2 L184.3,310.2 L182.6,307.4 L180.8,307 L179.3,308.3 L178.3,308.1 L176.1,305.7 L173.1,306 L171.8,305.7 L170.8,305.7 L170.8,300.5 L171.6,293.2 L171.3,289.7 L177.9,289.7 L181.1,289.7 L183.1,287.7 L185.4,286.3 L187.6,284.2 L182.6,284.2 L186.8,281.1 L189.3,281.8 L191.1,281.1 L192.4,279.7 L194.3,277.6 L196.1,275.9ZM190.6,265.6 L192.4,264.8 L194.6,262.4 L194.3,261 L196.8,260.8 L200.4,260.3 L201.3,258.6 L203.6,255.8 L205.1,255.1 L213.1,255.1 L214.1,254.1 L214.8,253.8 L216.1,252 L216.8,249.3 L218.8,246.7 L221.1,247 L222.3,247.9 L222.3,252 L223.3,253.1 L224.3,255.8 L221.8,257.2 L219.3,258.6 L216.3,259.6 L215.1,261.7 L214.8,263.1 L214.6,264.1 L215.4,265.9 L216.8,265.3 L217,266.6 L215.6,267.1 L213.8,267.2 L212.1,267.9 L207.9,269 L206.8,270.4 L206.8,271.7 L206.1,273.8 L204.6,276.1 L204.1,276.6 L204.1,278.3 L203.8,279.4 L201.1,279.4 L199.3,278 L199.1,276.2 L197.6,274.9 L195.8,273.8 L193.1,275.2 L193.1,273.4 L190.6,273.4 L190.6,270.2Z" fill="none" stroke="#a9abae" stroke-width="0.45" stroke-opacity="0.8"/>
<path d="M158.2,246.4h0.01M111.6,289.3h0.01M146.4,300.3h0.01M200.6,278.1h0.01M199.5,268.7h0.01M153,275.4h0.01M177.2,293.2h0.01M136.9,283.7h0.01M165.6,291.7h0.01M157.9,252.9h0.01M196.5,281.3h0.01M162.3,307.7h0.01M150.1,294.7h0.01M170.1,295.7h0.01M103.5,280.5h0.01M126.7,285h0.01M136,289.4h0.01M177.7,279.1h0.01M140.2,303.4h0.01M153.5,293h0.01M192.7,296.2h0.01M150,242.5h0.01M166.6,254.5h0.01M100,278.6h0.01M168.7,259.4h0.01M162.4,305.8h0.01M219.6,248.8h0.01M116.9,284.7h0.01M145,298.3h0.01M175.4,302.8h0.01M136.5,298.9h0.01M163.5,274.9h0.01M151.3,252.7h0.01M152.4,258.3h0.01M221.7,256.1h0.01M122.6,250.1h0.01M201,262.4h0.01M106.1,288.4h0.01M183,268.9h0.01M145.5,291.5h0.01M140.3,277h0.01M138.1,273.5h0.01M185.4,304.5h0.01M149.2,305.7h0.01M120,270.7h0.01M189.1,320h0.01M183.3,295.4h0.01M104.2,263.7h0.01M221.2,257.2h0.01M175.1,266.2h0.01M195.6,288.4h0.01M116.2,262.1h0.01M107.8,287.9h0.01M119.7,275.7h0.01M203.2,260.5h0.01M135.5,300.8h0.01M162.6,298.5h0.01M131.7,280.5h0.01M144,287h0.01M151.1,270.6h0.01M153.8,242.4h0.01M200.2,290.4h0.01M169.4,280.2h0.01M173.5,272.1h0.01M197.4,274.1h0.01M150,285.6h0.01M153.7,262.5h0.01M131.5,269.8h0.01M155.5,293.8h0.01M186.1,310.3h0.01M182.8,256.7h0.01M167.9,305.1h0.01M181.8,254.3h0.01M107.8,272.4h0.01M184.9,274h0.01M129.7,254.8h0.01M151.5,293h0.01M206.7,261.3h0.01M201.7,269.3h0.01M160.9,281h0.01M131.2,290.1h0.01M197.1,285.4h0.01M144.1,313.7h0.01M182,251.1h0.01M185.5,298.3h0.01M124.1,289.1h0.01M160.4,296.9h0.01M199.8,273.4h0.01M201.3,260.9h0.01M154.5,275.7h0.01M147.6,288.3h0.01M212.9,266.9h0.01M152.1,306h0.01M204.1,270h0.01M89.3,278.4h0.01M150.5,306.7h0.01M180.2,275.6h0.01M150.1,284h0.01M164.4,306.5h0.01M182.2,270.2h0.01M213.2,267.4h0.01M154.3,286.8h0.01M152.4,254h0.01M185,262.9h0.01M197.7,276h0.01M109.2,293.5h0.01M88.7,279h0.01M151.4,296h0.01M194.6,287.1h0.01M88.3,283.5h0.01M112.1,295.6h0.01M157.1,278.2h0.01M152.6,299.7h0.01M186.9,315.4h0.01M194.8,277.6h0.01M219.3,254.7h0.01M177.8,273.5h0.01M213.6,264.4h0.01M187.1,311.9h0.01M153.3,308h0.01M94.6,287.7h0.01M177.8,295.3h0.01M186.7,269.6h0.01M157.3,257h0.01M150.3,307.9h0.01M192.8,271.2h0.01M198.5,287.1h0.01M179.1,292.2h0.01M189.1,296.8h0.01M163,276.5h0.01M155.3,277.9h0.01M146.8,305.8h0.01M147.8,287.8h0.01M111.6,291.2h0.01M173.3,278.5h0.01M145.6,297.7h0.01M198.3,273.9h0.01M180.2,277.5h0.01M148.4,281.1h0.01M100,297.6h0.01M85.1,251.4h0.01M159,289.1h0.01M196.1,261.4h0.01M213.8,260.4h0.01M153,289.8h0.01M200.5,275.1h0.01M145.3,296.7h0.01M186.2,316.8h0.01M93.4,290.6h0.01M148.4,308h0.01M97.1,294.2h0.01M167.4,278.1h0.01M215.6,257.3h0.01M186.5,306.3h0.01M205.5,267.6h0.01M88.9,246.4h0.01M176.4,295.3h0.01M180.8,262.6h0.01M188.6,310.6h0.01M203,271.9h0.01M110.1,270.9h0.01M149.7,268.4h0.01M87,276.9h0.01M200.3,273.9h0.01M153.6,275.2h0.01M178.8,275.4h0.01M199.9,275h0.01M144.6,311.9h0.01M214,266.8h0.01M180.2,274.8h0.01M88.1,276.9h0.01M183.5,267.1h0.01M200.5,273.9h0.01M182.9,296.2h0.01M87.8,245.9h0.01M191.2,288.2h0.01M201.5,275h0.01M166.5,289.4h0.01M146.5,307.9h0.01M209.1,267.8h0.01M86.2,281.9h0.01M145.5,308.5h0.01M86.2,252.1h0.01M185.9,296.1h0.01M199,273.8h0.01M147.3,309.7h0.01M211.7,267.2h0.01M178.5,280h0.01M197.6,278h0.01M178.3,294.9h0.01M186.2,307.6h0.01M127.4,272.4h0.01M101.1,258.3h0.01M175.6,272.6h0.01M154,277.7h0.01M186.4,267.4h0.01M201.4,274.6h0.01M202,272.3h0.01M88.9,278.5h0.01M189.4,313.8h0.01M154.4,275.2h0.01M166.6,286.8h0.01M213.9,264.3h0.01M163.1,292h0.01M151.6,277.2h0.01M172.3,264.4h0.01M175,267h0.01M179.1,278h0.01M85.1,253.5h0.01M87.3,279.9h0.01M183.6,271.4h0.01M179.6,263.6h0.01M214.7,265.5h0.01M213.4,264.9h0.01M153.6,283.4h0.01M162.8,302.4h0.01M144.6,293.8h0.01M211.3,266.5h0.01M154.4,271.9h0.01M171.4,269.6h0.01M190.3,266.2h0.01M179.2,273.3h0.01M171.8,261.2h0.01M167,278.4h0.01M205.3,271.3h0.01M147,282.9h0.01M170,261.7h0.01M209.1,268.6h0.01M169.3,266.8h0.01M175.4,295.9h0.01M155.7,275.3h0.01M87.9,277h0.01M199.8,277.9h0.01M95.9,284.5h0.01M195,291.5h0.01M184.2,264h0.01M198.6,275h0.01M109.8,296.5h0.01M174.3,272.1h0.01M205.8,273.5h0.01M196.9,281.4h0.01M211.4,265.2h0.01M163.8,278.4h0.01M177.8,273.3h0.01M87.7,246.6h0.01M146.8,295.5h0.01M177.2,263.7h0.01M181.8,263.2h0.01M167.4,273.6h0.01M153.3,284.1h0.01M188.9,315.1h0.01M206.2,268.9h0.01M100.7,259.1h0.01M177,272.2h0.01M102.1,257.6h0.01M185.1,261.7h0.01M167.3,274.5h0.01M86.5,281.6h0.01M204.3,267.6h0.01M176.5,283.7h0.01M86.5,278.4h0.01M145.8,304.3h0.01M148.8,289.3h0.01M202.5,270.3h0.01M171.1,259h0.01M172.4,287.9h0.01M103.6,259.1h0.01M147.5,313.9h0.01M193.4,286.2h0.01M195.4,285.6h0.01M186.9,269.8h0.01M204.7,274.3h0.01M165.8,303.6h0.01M102,260h0.01M112.2,271.7h0.01M175.2,274.2h0.01M193.3,291.1h0.01M187,276h0.01M208,266.5h0.01M180.1,294h0.01M130.7,275.8h0.01M175.6,295.4h0.01M201.3,275.7h0.01M176,266.9h0.01M110.1,270.1h0.01M110,267.3h0.01M168.4,262.3h0.01M163.6,306.4h0.01M114.4,291.7h0.01M152.8,296.5h0.01M178.4,263.7h0.01M195,278.3h0.01M178.6,274.2h0.01M164.9,307h0.01M174.4,284.5h0.01M175.8,286.9h0.01M186.2,317.2h0.01M162.6,255.5h0.01M183.4,291.9h0.01M87.5,247.2h0.01M152.7,276.5h0.01M177.2,293.9h0.01M186.2,311.4h0.01M213.9,266.2h0.01M146.5,304.8h0.01M89.2,276.7h0.01M190.4,273.4h0.01M187.9,312.6h0.01M153.1,298h0.01M180.1,295h0.01M113.3,295.9h0.01M95.5,288.8h0.01M150.4,295.2h0.01M176.2,274.9h0.01M188.6,314.8h0.01M84.3,275.7h0.01M186.8,312.9h0.01M152.1,286.4h0.01M145.6,313.5h0.01M83.1,254.8h0.01M112.7,269.4h0.01M176,284.5h0.01M116,268.5h0.01M150.1,306.6h0.01M129.8,273.6h0.01M169.6,261.4h0.01M194.6,270.9h0.01M96.6,293.9h0.01M184.8,262.2h0.01M179.5,274.3h0.01M198.8,279.9h0.01M199.5,271.8h0.01M172,265.8h0.01M88.3,244.4h0.01M201.3,276.9h0.01M203.4,271.8h0.01M171.2,270.6h0.01M162.1,292.7h0.01M190,271.1h0.01M195.9,278.1h0.01M167.8,264.9h0.01M196.9,276.7h0.01M212.9,265.1h0.01M152.8,308.2h0.01M170.8,271.9h0.01M199.5,275.8h0.01M171.1,267.9h0.01M206.7,269.6h0.01M145.2,307.6h0.01M185.8,313.6h0.01M100.1,293.5h0.01M177.8,274.3h0.01M205.2,269.2h0.01M183,273.2h0.01M150.9,306.3h0.01M114.2,270.9h0.01M188.7,290.4h0.01M166.6,276.1h0.01M177.5,265.8h0.01M85.6,247.9h0.01M184.2,272.8h0.01M151.6,277h0.01M180,290.9h0.01M152.1,297.2h0.01M177.5,260.5h0.01M126.9,288.1h0.01M168.5,261.7h0.01M89.2,280.6h0.01M147.8,306h0.01M130.1,271.8h0.01M191.8,269.8h0.01M130.7,274.5h0.01M190.5,270.6h0.01M160,255.3h0.01M195.4,288.4h0.01M112.6,295.8h0.01M214.9,264.9h0.01M194.8,262.1h0.01M151.7,305.1h0.01M173.6,269.8h0.01M97.6,288.8h0.01M100.9,294.7h0.01M129.3,271.9h0.01M172.6,265.2h0.01M101.8,258.8h0.01M191.3,290.8h0.01" stroke="#2b83a0" stroke-width="1.5" stroke-linecap="round" stroke-opacity="0.9" fill="none"/>
<path d="M106.4,250.4 Q113.5,257 113,269.3 M113.2,256.5 Q114.5,250 118.1,247.5 M112.3,269.3 Q115,269 117.4,270.8 M123.2,261.3 Q131,255 130.5,245.3 M127.6,252.6 Q129,257 133.4,258.4 M129.8,275.9 Q138.5,280 137,288.3 M137,288.3 Q118,286 134.1,297.8 M136.3,300.7 Q142,296 148.7,302.9 M148,304.3 Q147.5,307 145.8,308.7 M140.7,257 Q150,266 157.4,254 M157.4,254 Q158,249 160,246.5 M155.3,244.6 Q160,241.5 164,246 M165.5,262.8 L169.9,261.3 M172.8,280.5 L175.6,282.9 M175.6,280.5 L172.8,282.9 M191.7,269.3 Q201,272 198.3,278.8 M209.2,256.2 Q213,258 212.9,262 M213.6,267.2 Q225,265 221.6,257.7 M183,294.9 Q188,300 191,297.8 Q196,294 194.6,289.7 M190.3,286.1 Q193,287 194.6,289.7 M168.4,305.8 Q182,300 186.6,314.5 M198.3,291.9 Q204,305 191,313.8" fill="none" stroke="#363636" stroke-width="0.85"/>
<path d="M273.1,244.3 L276.9,245 L277.9,242.2 L348,242.2 L348,240.9 L348.9,241.2 L349.4,243.2 L353.4,243.6 L356,244.6 L359,245 L362,245.7 L360.3,247.1 L357.5,248.8 L355.7,250 L358,249.7 L360,250.6 L362.6,249.7 L364.6,248.4 L366.4,247.6 L365.1,249.3 L367.6,250.9 L369.6,251 L371.4,250.2 L373.7,250 L374.7,251 L376,250.9 L377.2,252.3 L375.2,252.8 L374.5,253.1 L372.7,252.3 L370.4,253 L368.9,253.7 L367.1,255.7 L366.1,257.6 L367.4,256.4 L368.9,255 L367.6,257.5 L367.1,259.2 L366.4,262.3 L366.6,264.8 L367.1,266.8 L367.9,267.9 L369.1,267.3 L369.9,266.1 L370.7,263.7 L369.9,260.9 L370.4,258.5 L371.7,256.4 L372.4,255.4 L373.7,254.7 L374.5,253.4 L376,254.3 L377.8,255.9 L378,257.8 L376.5,259.9 L377.5,260.6 L378.9,259.4 L380,260.9 L380.3,263 L380,264.4 L378.5,265.4 L377.6,267.4 L379.5,268.2 L382.1,268.2 L385.1,266.6 L386.9,265.8 L389.2,263.4 L388.9,262 L391.4,261.8 L395,261.3 L396,259.6 L398.3,256.8 L399.8,256.1 L407.9,256.1 L408.9,255 L409.7,254.7 L410.9,253 L411.7,250.2 L413.7,247.6 L416,247.9 L417.3,248.8 L417.3,253 L418.3,254 L419.3,256.8 L416.8,258.2 L414.2,259.6 L411.2,260.6 L409.9,262.7 L409.7,264.1 L409.4,265.1 L410.2,266.8 L411.7,266.3 L411.8,267.5 L410.4,268.1 L408.7,268.2 L406.9,268.9 L402.6,270 L401.6,271.3 L401.6,272.7 L400.8,274.8 L399.3,277.1 L398.8,277.6 L398.8,279.3 L398.5,280.4 L397.5,282.1 L396.5,283.5 L396.5,284.2 L397,286.3 L397.8,289.7 L395.2,291.8 L391.9,294.2 L389.9,294.6 L388.4,296.7 L386.4,298.8 L384.1,301.2 L383.3,302.9 L382.6,305.7 L382.8,308.1 L383.8,310.9 L384.8,313.7 L386.1,318.5 L386.2,322 L385.6,324.1 L384.1,325 L383.3,323.4 L381.8,321.7 L380.8,319.2 L379.5,316.1 L379.3,313.3 L378.8,311.3 L377,308.5 L375.2,308.1 L373.7,309.3 L372.7,309.2 L370.4,306.7 L367.4,307.1 L366.1,306.7 L365.1,306.7 L362.6,307.4 L362,307.8 L362.6,309.9 L363.1,311.6 L360.5,311.3 L358,310.6 L355.2,309.5 L351.4,309.2 L349.1,310.2 L347.6,311.9 L344.8,314 L342.8,316.5 L342.3,318.9 L342.8,322 L342,322.4 L340,321.7 L338,320.3 L337,316.8 L334.9,314.4 L333.2,309.2 L329.6,308.8 L327.8,311.6 L325.8,310.6 L323.8,308.5 L323,305.7 L320.5,303.3 L319.2,301.9 L314.9,301.9 L314.9,303.5 L307.6,303.5 L298.2,299.5 L298.4,298.8 L292.4,299.5 L291.9,297.4 L290.1,295.3 L288.8,294.2 L287,293.7 L283.7,292.5 L283.5,290.4 L281.7,288.4 L280.2,285.2 L278.9,283.1 L278.7,281.1 L277.4,280.4 L275.6,276.9 L275.4,274.1 L273.9,272 L274.6,270 L274.4,266.5 L273.6,263.7 L274.6,260.6 L274.9,257.5 L275.1,254.3 L274.9,251.6 L274.6,249.5 L273.4,246 Z" fill="#d1d2d4" stroke="#c8c8ca" stroke-width="0.4"/>
<path d="M274.9,251.7 L277.4,251.9 L282.5,253.8 L287.5,252.6 L292.9,252.6M292.5,242.2 L292.5,251.2 L292.9,252.6 L293.9,254.3 L292.6,258.5 L292.6,266.5M285,266.5 L285,276.9 L298.7,290.8M307.7,256.1 L325.4,256.1M307.7,257.8 L307.7,256.1M325.4,242.2 L325.4,270M325.4,252.8 L344.4,252.8M325.4,263 L339.5,263 L344.3,264.8M312.8,270 L312.8,303.5M300.1,283.8 L330.5,283.8M330.5,283.8 L349.4,283.8M328.1,285.6 L335.7,285.6 L335.7,292.3 L343.3,294.9 L349.6,295.6M350.8,295.8 L350.8,301.2 L351.4,304.7 L351.7,308.8M349.8,285.6 L349.8,289.4 L349.7,295.5M350.8,297.7 L358.1,297.7M358.1,297.7 L358,301.2 L357,304.7 L361.7,304.7 L362,307.4M344.7,261.3 L358,261.3M355.2,250.2 L355.2,252.3 L353.9,254 L354.2,256.8 L358,261.3M360,250.6 L363.6,252.3 L366.1,253.3 L367.1,255.7M357.5,272 L359.5,276.9 L360.5,278.3 L362.3,282.8 L363.3,283.9M367.3,267.3 L367.3,277.9 L366.4,281.1 L365.8,282.1M374.2,267.5 L374.2,276.6M363.3,283.9 L365.8,282.1 L368.6,280.7 L371.2,280.4 L371.7,279.3 L373.7,277.9 L374.2,276.6 L376.2,277.6 L378.8,277.9 L379.8,279 L381.3,276.9 L382.6,275.9 L384.1,274.5 L384.8,271.3M362.3,285.6 L377,285.2M363.3,283.9 L362.3,285.6 L361.8,287.3M372.2,290.8 L373.2,298.4 L373.7,301.2 L373.7,304.7M367.1,304.7 L373.7,304.7 L374,305.7 L380.8,306 L381.3,305.4 L382.6,305.7M378.5,290.8 L380.8,294.2 L383.8,300.8M378.5,290.8 L380.3,290.1 L383.8,290.4 L384.1,290.8 L386.1,291.5 L387.1,291.5 L390.2,294.8M382.1,285.4 L396.8,285.4M387,266.5 L398.2,266.5 L398.8,267.2 L399.8,268.7 L401.6,270M399.8,268.7 L398.8,270.7 L398.5,272.7 L397.8,274.1M385.1,274.4 L397,274.4M397,274.4 L397,278.8 L398.9,278.8M403.2,256.1 L403.3,260.9 L403.5,263.9M407.9,256.1 L406.6,258.5 L405.4,262 L405.5,264M403.5,264 L409.4,263.5M402.8,266.3 L408.2,266.4M402.8,263.9 L402.8,269.6M407.1,266.5 L407.1,268.9M409,255 L409.2,260.2 L409.9,262.7M273.1,244.3 L276.9,245 L277.9,242.2 L295,242.2 L295,245.7 L295.9,247.8 L298.7,250.4 L299.5,254.3 L301.6,256.4 L303.3,258.2 L307.7,257.8 L307.7,266.5 L292.6,266.5 L274.4,266.5 L273.6,263.7 L274.6,260.6 L274.9,257.5 L275.1,254.3 L274.9,251.6 L274.6,249.5 L273.4,246ZM295,242.2 L342.8,242.2 L343.8,250.5 L344.4,253 L344.7,255 L344.7,261.3 L344.3,264.8 L345.6,266.5 L346.1,268.9 L346.3,271.3 L347.6,273.4 L330.5,273.4 L330.5,270 L307.7,270 L307.7,257.8 L303.3,258.2 L301.6,256.4 L299.5,254.3 L298.7,250.4 L295.9,247.8 L295,245.7ZM274.4,266.5 L285,266.5 L300.1,266.5 L300.1,283.8 L300.1,286.6 L298.6,290.1 L298.7,291.1 L298.9,295.6 L298.4,298.8 L292.4,299.5 L291.9,297.4 L290.1,295.3 L288.8,294.2 L287,293.7 L283.7,292.5 L283.5,290.4 L281.7,288.4 L280.2,285.2 L278.9,283.1 L278.7,281.1 L277.4,280.4 L275.6,276.9 L275.4,274.1 L273.9,272 L274.6,270ZM300.1,266.5 L307.7,266.5 L307.7,270 L330.5,270 L330.5,283.8 L328.1,283.8 L328.1,285.6 L328,301.2 L319,301.2 L319.2,301.9 L314.9,301.9 L314.9,303.5 L307.6,303.5 L298.2,299.5 L298.4,298.8 L298.9,295.6 L298.7,291.1 L298.6,290.1 L300.1,286.6 L300.1,283.8ZM330.5,273.4 L347.6,273.4 L348.6,274.1 L349.4,276.6 L349.4,285.6 L360.6,285.6 L360.8,287.3 L361.8,287.3 L360.3,290.8 L365.6,290.8 L365.8,294.2 L365.1,301.5 L365.1,306.7 L362.6,307.4 L362,307.8 L362.6,309.9 L363.1,311.6 L360.5,311.3 L358,310.6 L355.2,309.5 L351.4,309.2 L349.1,310.2 L347.6,311.9 L344.8,314 L342.8,316.5 L342.3,318.9 L342.8,322 L342,322.4 L340,321.7 L338,320.3 L337,316.8 L334.9,314.4 L333.2,309.2 L329.6,308.8 L327.8,311.6 L325.8,310.6 L323.8,308.5 L323,305.7 L320.5,303.3 L319,301.2 L328,301.2 L328.1,285.6 L328.1,283.8 L330.5,283.8ZM342.8,242.2 L348,242.2 L348,240.9 L348.9,241.2 L349.4,243.2 L353.4,243.6 L356,244.6 L359,245 L362,245.7 L360.3,247.1 L357.5,248.8 L355.7,250 L358,249.7 L360,250.6 L362.6,249.7 L364.6,248.4 L366.4,247.6 L365.1,249.3 L367.6,250.9 L369.6,251 L371.4,250.2 L373.7,250 L374.7,251 L376,250.9 L377.2,252.3 L375.2,252.8 L374.5,253.1 L372.7,252.3 L370.4,253 L368.9,253.7 L367.1,255.7 L366.1,257.6 L367.4,256.4 L368.9,255 L367.6,257.5 L367.1,259.2 L366.4,262.3 L366.6,264.8 L359.4,264.8 L360.5,266.1 L359.5,268.2 L358.2,269.6 L357.5,272 L346.3,271.3 L346.1,268.9 L345.6,266.5 L344.3,264.8 L344.7,261.3 L344.7,255 L344.4,253 L343.8,250.5ZM369.1,267.3 L369.9,266.1 L370.7,263.7 L369.9,260.9 L370.4,258.5 L371.7,256.4 L372.4,255.4 L373.7,254.7 L374.5,253.4 L376,254.3 L377.8,255.9 L378,257.8 L376.5,259.9 L377.5,260.6 L378.9,259.4 L380,260.9 L380.3,263 L380,264.4 L378.5,265.4 L377.6,267.4 L374.2,267.5ZM366.6,264.8 L367.1,266.8 L367.9,267.9 L369.1,267.3 L374.2,267.5 L377.6,267.4 L379.5,268.2 L382.1,268.2 L385.1,266.6 L385.1,271.2 L385.1,274.4 L387.7,274.4 L387.7,276.2 L390.4,274.8 L392.2,275.9 L390.7,276.9 L388.9,278.6 L386.9,280.7 L385.6,282.1 L383.8,282.8 L381.3,282.1 L377,285.2 L382.1,285.2 L379.8,287.3 L377.5,288.7 L375.5,290.8 L372.2,290.8 L365.6,290.8 L360.3,290.8 L361.8,287.3 L360.8,287.3 L360.6,285.6 L349.4,285.6 L349.4,276.6 L348.6,274.1 L347.6,273.4 L346.3,271.3 L357.5,272 L358.2,269.6 L359.5,268.2 L360.5,266.1 L359.4,264.8ZM392.2,275.9 L393.7,277.2 L394,279 L395.7,280.4 L395.7,282.1 L396.5,284.2 L397,286.3 L397.8,289.7 L395.2,291.8 L391.9,294.2 L389.9,294.6 L388.4,296.7 L386.4,298.8 L384.1,301.2 L383.3,302.9 L382.6,305.7 L382.8,308.1 L383.8,310.9 L384.8,313.7 L386.1,318.5 L386.2,322 L385.6,324.1 L384.1,325 L383.3,323.4 L381.8,321.7 L380.8,319.2 L379.5,316.1 L379.3,313.3 L378.8,311.3 L377,308.5 L375.2,308.1 L373.7,309.3 L372.7,309.2 L370.4,306.7 L367.4,307.1 L366.1,306.7 L365.1,306.7 L365.1,301.5 L365.8,294.2 L365.6,290.8 L372.2,290.8 L375.5,290.8 L377.5,288.7 L379.8,287.3 L382.1,285.2 L377,285.2 L381.3,282.1 L383.8,282.8 L385.6,282.1 L386.9,280.7 L388.9,278.6 L390.7,276.9ZM385.1,266.6 L386.9,265.8 L389.2,263.4 L388.9,262 L391.4,261.8 L395,261.3 L396,259.6 L398.3,256.8 L399.8,256.1 L407.9,256.1 L408.9,255 L409.7,254.7 L410.9,253 L411.7,250.2 L413.7,247.6 L416,247.9 L417.3,248.8 L417.3,253 L418.3,254 L419.3,256.8 L416.8,258.2 L414.2,259.6 L411.2,260.6 L409.9,262.7 L409.7,264.1 L409.4,265.1 L410.2,266.8 L411.7,266.3 L411.8,267.5 L410.4,268.1 L408.7,268.2 L406.9,268.9 L402.6,270 L401.6,271.3 L401.6,272.7 L400.8,274.8 L399.3,277.1 L398.8,277.6 L398.8,279.3 L398.5,280.4 L395.7,280.4 L394,279 L393.7,277.2 L392.2,275.9 L390.4,274.8 L387.7,276.2 L387.7,274.4 L385.1,274.4 L385.1,271.2Z" fill="none" stroke="#a9abae" stroke-width="0.45" stroke-opacity="0.8"/>
<path d="M370.9,299.8h0.01M361.7,277.1h0.01M338.2,303.1h0.01M355,305.8h0.01M403.4,259.1h0.01M405.2,261.9h0.01M378.7,285h0.01M320.7,267.2h0.01M359,299.5h0.01M306.5,252.6h0.01M349.5,254.4h0.01M298.6,269.5h0.01M362.9,263.6h0.01M330.7,282.6h0.01M389.8,266.4h0.01M335,281.7h0.01M378.7,305.4h0.01M349.2,286.8h0.01M347.9,277.1h0.01M334.3,281.8h0.01M276.4,268.4h0.01M340.9,262.7h0.01M412.2,258.5h0.01M344.6,303.9h0.01M372.5,288.9h0.01M383.3,317.5h0.01M340.5,266.9h0.01M294.6,288.7h0.01M360,252h0.01M347.7,285.3h0.01M342.2,245.4h0.01M376.9,251.9h0.01M303.4,245h0.01M371.6,297.6h0.01M383.1,311h0.01M387.5,291.8h0.01M351.8,249.3h0.01M389.2,271.1h0.01M389.5,273.1h0.01M307.4,287.4h0.01M313.9,245.7h0.01M372.1,294.4h0.01M327,292.6h0.01M384.2,289.1h0.01M314.9,272.4h0.01M319.5,248.3h0.01M334.6,304.6h0.01M336,260.6h0.01M349.5,255.1h0.01M385.1,274.6h0.01M360.4,276.5h0.01M293.7,283.7h0.01M293.9,284.5h0.01M355.3,286.1h0.01M375.7,267.3h0.01M278.1,279.5h0.01M365.9,280.2h0.01M341,301.2h0.01M393.3,267.1h0.01M313.1,249.7h0.01M349.9,248.5h0.01M338.6,287.6h0.01M342.3,304.3h0.01M342.7,309.5h0.01M356.9,299.7h0.01M361.5,253.8h0.01M372.7,299.8h0.01M359.5,267h0.01M330.5,285.9h0.01M331.9,282.6h0.01M342.3,246.8h0.01M352.1,274.7h0.01M334.5,259.6h0.01M393.7,269.4h0.01M314.4,271.2h0.01M348.7,281.5h0.01M356.6,282.5h0.01M292.2,296.3h0.01M356.3,304.6h0.01M341,290.3h0.01M323.3,279.6h0.01M404.6,267.4h0.01M384.1,273.2h0.01M297.1,287.9h0.01M380,312.6h0.01M384.6,272.5h0.01M355.3,293.6h0.01M381,275.2h0.01M393.9,282.4h0.01M359.7,291.8h0.01M347.4,269.3h0.01M384.7,293.8h0.01M346.5,288.5h0.01M280,280.8h0.01M345.8,256.4h0.01M406.3,265.9h0.01M372.1,293h0.01M411.3,267h0.01M393.5,276.9h0.01M344,288.7h0.01M306.2,297.9h0.01M357.6,306.5h0.01M281.4,246.6h0.01M400.2,272.8h0.01M374.9,277.4h0.01M384.5,323.7h0.01M322.4,275.3h0.01M399.8,270.6h0.01M377.7,274h0.01M384.1,313.5h0.01M298.2,288.7h0.01M322,275.3h0.01M283.7,283.6h0.01M346.5,285.9h0.01M384.7,291.3h0.01M323.2,274.6h0.01M302.3,293.9h0.01M280.4,248.3h0.01M373.9,295h0.01M347.2,266.1h0.01M381.9,320.8h0.01M281,279.5h0.01M280.4,284.5h0.01M408.8,264.6h0.01M307,270.6h0.01M381.6,293.4h0.01M393.6,283.1h0.01M359.1,306.6h0.01M362.3,307.4h0.01M380.9,285.2h0.01M402.5,268.1h0.01M282,246.7h0.01M392.3,277h0.01M342.7,290h0.01M343,310.9h0.01M375.6,297.3h0.01M342.4,306.5h0.01M363.6,264.7h0.01M392.2,281h0.01M354.9,292.2h0.01M394,274.9h0.01M404.4,266.6h0.01M389,264.2h0.01M391.7,279.5h0.01M377.7,262.5h0.01M296.1,286.2h0.01M289.8,291.7h0.01M357.5,279.6h0.01M341.5,299.3h0.01M326.5,270.4h0.01M369.7,297.1h0.01M282.3,277.7h0.01M369.6,266.7h0.01M395.4,276.6h0.01M279.7,249h0.01M348.4,307.2h0.01M343.7,296.4h0.01M382.7,269.9h0.01M361.8,266.3h0.01M405.3,268.3h0.01M408.2,262.5h0.01M377,266.1h0.01M284.7,281.5h0.01M385.2,321.8h0.01M390.7,286.8h0.01M372.3,267.9h0.01M379.5,274.1h0.01M279.9,283h0.01M381.8,271.4h0.01M323.4,275.1h0.01M377.9,297.4h0.01M351.1,308.9h0.01M376.6,298.2h0.01M294.5,259.9h0.01M277,255.5h0.01M304.9,269.7h0.01M354.1,293.4h0.01M307.1,295.7h0.01M340.2,280.5h0.01M396.3,274.3h0.01M346.6,310.1h0.01M405.7,263.2h0.01M342.2,281.6h0.01M352.2,277h0.01M396.2,270.1h0.01M359.1,309.8h0.01M291.4,294.2h0.01M296.4,260.7h0.01M369.9,296.6h0.01M392.6,279.9h0.01M353.1,251.4h0.01M360.3,310.4h0.01M278,253.1h0.01M297.8,284.6h0.01M395.9,273.2h0.01M281.7,247.8h0.01M392.4,279h0.01M386.1,321.1h0.01M408.9,264.1h0.01M375.4,275.4h0.01M348,295.8h0.01M374,297.2h0.01M279.1,280.8h0.01M369.2,276.5h0.01M344.7,289.7h0.01M410.9,255.7h0.01M318.3,291.1h0.01M364.6,264.3h0.01M281.8,277.1h0.01M391.8,281.5h0.01M341.2,306.2h0.01M367.4,286.3h0.01M279.7,247.4h0.01M288.3,289.5h0.01M381.4,297.4h0.01M389.8,263.2h0.01M388,291.4h0.01M403.9,266.3h0.01M358.6,307.4h0.01M396.1,273.7h0.01M344.5,303.4h0.01M403.1,265h0.01M281.5,245.2h0.01M372,291.2h0.01M404.6,266.7h0.01M385.4,319.1h0.01M380.6,314.4h0.01M369.7,271.3h0.01M410.6,257.7h0.01M324.6,276.2h0.01M374.2,277.8h0.01M407.1,266.9h0.01M399.8,274.3h0.01M393.4,282.6h0.01M392,277.6h0.01M288.5,289.8h0.01M396.5,277.6h0.01M343,301h0.01M366.4,271h0.01M325.3,278.6h0.01M294.7,261.8h0.01M378.4,272.8h0.01M362,268.6h0.01M289.5,294h0.01M322.9,270.6h0.01M381.8,293.7h0.01M377.1,267.9h0.01M356.8,291.4h0.01M377.1,267.5h0.01M406.1,266.3h0.01M396.8,261.9h0.01M386.1,287.7h0.01M292.8,297.3h0.01M406.8,266.9h0.01M379.3,286.1h0.01M368.6,287.2h0.01M291.8,262.7h0.01M322.2,275.2h0.01M279.8,284.5h0.01M360.4,292.7h0.01M365.4,263.8h0.01M297.2,284.1h0.01M341.1,309.7h0.01M366.4,264.5h0.01M281.1,249.9h0.01M362.8,270.5h0.01M344.1,305.4h0.01M295.4,260.8h0.01M394,277.2h0.01M291.5,295.8h0.01M357.8,306h0.01M392.5,272.5h0.01M404.8,265.6h0.01M386.6,273.4h0.01M371.7,295.7h0.01M384.9,271.3h0.01M362.9,278.4h0.01M286,291.3h0.01M396.2,275.2h0.01M368,268.6h0.01M358.4,307.1h0.01M376.5,273.9h0.01M280,248.5h0.01M279.9,258.6h0.01M394.3,279.3h0.01M296.2,288.8h0.01M342.3,296.9h0.01M344,298.7h0.01M280.6,243.7h0.01M375.4,299.6h0.01M385.6,322.2h0.01M288.4,293.5h0.01M346.3,302h0.01M345,270.5h0.01M355,255.3h0.01M278.2,279.3h0.01M351.5,260.7h0.01M359.7,307.7h0.01M384.5,322h0.01M397.4,278.9h0.01M349.2,275h0.01M348.4,303.5h0.01M390.8,287.7h0.01M307.1,296.7h0.01M409.1,263.7h0.01M376.7,261.6h0.01M383,311.6h0.01M372.7,276.2h0.01M401.6,264h0.01M367.5,286.8h0.01M292.1,296.5h0.01M394.8,276.2h0.01M385.1,272.5h0.01M372.2,293.9h0.01M407.4,268.3h0.01M346,309.9h0.01M378.5,295h0.01M380.1,315.2h0.01M385.5,270.6h0.01M361.1,293.9h0.01M337.1,311.7h0.01M393.7,276.6h0.01M409.9,267h0.01M286.7,282.1h0.01M365.7,262.4h0.01M279.3,280.7h0.01M395.4,274.6h0.01M365.5,271.7h0.01M390.1,286.9h0.01M372.4,292h0.01M322.6,276.3h0.01M345.7,294.2h0.01M375.8,274.3h0.01M276.8,254.8h0.01M297.9,287.5h0.01M351.5,255.9h0.01M350.1,308.8h0.01M390.2,290.1h0.01M342.3,307.3h0.01M278.8,279.1h0.01M371.1,286.1h0.01M372.9,274.6h0.01M403.8,269.6h0.01M395.4,277.8h0.01M362.4,264.4h0.01M369.2,289.9h0.01M366.5,264.8h0.01M282.2,279.3h0.01M325.3,273.9h0.01M353.3,257.8h0.01M349.4,277h0.01M355,253.1h0.01M348.1,307.9h0.01M323,275.5h0.01M278.2,253.8h0.01M344.1,306.4h0.01M293.7,287.9h0.01M296.9,288h0.01M375.8,263h0.01M385.6,267.4h0.01M296.5,285.3h0.01M369.2,287.7h0.01M358.9,279.9h0.01" stroke="#2b83a0" stroke-width="1.5" stroke-linecap="round" stroke-opacity="0.9" fill="none"/>
<path d="M298.9,245.5 Q303,246 305.9,251.4 M300.5,244.5 Q305,245 307.5,249.5 M314.1,253.7 Q320,257 317.6,261.9 M314.1,275.9 Q318,281 323.4,273.6 M284.9,275.9 Q289,278 288.4,282.9 M302.4,278.2 Q298,289 307.1,296.9 M298.9,300.4 Q303,296 308.2,303.9 M345.5,257.6 Q349,252 353.4,256.3 M344.4,261.9 Q348,257 351.4,258.4 M359.9,262 Q356,266 359.9,272 M360.8,251.4 Q369,257 367.8,265.4 M391.3,265.1 Q406,274 395.6,283.5 M379.9,273 Q385,274 385.1,279.2 M412.3,258.1 Q414.5,255.5 416.7,258.6 M412.3,258.1 Q414.5,260.5 416.7,258.6 M391.5,290.5 Q397,283 392,276 M350.7,276.7 Q356,270 360.6,278 M350.7,276.7 Q354,282 360.6,278 M319.9,289.8 Q322,306 337.6,316.1 M319.9,289.8 Q330,300 337.6,316.1 M319.9,289.8 Q332,284 340.9,293.1 M319.9,289.8 Q326,296 331,297 M363.9,306.9 Q372,319 381,316.8 M363.9,306.9 Q376,305 381,316.8 M337.6,316.1 Q336,322 342.2,321.4 M342.2,321.4 Q352,306 361.2,300.3 M342.2,321.4 Q341,312 348.8,308.9 M381,315.4 Q390,302 386.2,288.5 M383.6,310.2 Q392,300 391.5,290.5 M342.9,298.4 Q345.2,308.7 337.6,316.1 M356,303 Q360,298.9 359.9,293.1 M340.9,293.1 Q349,298.9 348.8,308.9 M337.6,316.1 Q334.5,305.5 342.9,298.4 M374.4,286.5 Q375.8,299.3 363.9,304.3 M351.4,296.4 Q345.7,305.5 335,305 M378.3,287.9 Q382.3,285.8 381.6,281.3 M340.2,286.5 Q337,293.5 342.9,298.4 M326,293 Q333.3,299.3 342.9,298.4 M331,297 Q332.7,289.2 340.2,286.5 M359.9,293.1 Q360.8,286.3 366.5,282.6 M335,305 Q336.7,309 340.9,310.2 M351.4,296.4 Q349.4,305.8 340.9,310.2 M369.8,297 Q371,289.1 366.5,282.6 M382.9,297.7 Q376.6,294.7 378.3,287.9 M343.5,285.2 Q350.5,277.9 360.6,278 M363.9,278.7 Q359.5,283 353.4,282.6 M342.9,298.4 Q349.6,290.1 359.9,293.1 M369.8,297 Q380.8,298.2 386.2,288.5 M335,305 Q343.3,297.3 340.2,286.5 M340.9,310.2 Q349.2,305.6 351.4,296.4 M351.4,296.4 Q341,289.2 331,297 M363.9,304.3 Q376.5,303.6 381,315.4 M351.4,296.4 Q342.1,295.7 340.2,286.5 M351.4,296.4 Q352.7,303.2 348.8,308.9 M360.6,278 Q363.4,285.7 359.9,293.1 M348.8,308.9 Q346.2,301.8 351.4,296.4 M363.9,278.7 Q356.6,282.1 350.7,276.7 M350.7,276.7 Q357,286.3 351.4,296.4 M331,297 Q337.4,294.2 342.9,298.4 M356,303 Q359.5,306.4 363.9,304.3 M363.9,278.7 Q373.1,280.2 378.3,287.9 M359.9,293.1 Q364.7,284.4 374.4,286.5 M361.2,300.3 Q363.6,288.7 353.4,282.6 M381.6,281.3 Q384.3,288.3 391.5,290.5 M381.6,281.3 Q374.5,286.7 366.5,282.6 M340.9,293.1 Q341.5,282.4 350.7,276.7 M375.7,277.3 Q367.1,285.4 369.8,297 M331,297 Q340.9,299.9 340.9,310.2 M361.2,300.3 Q351.6,304.1 342.9,298.4 M340.2,286.5 Q329.1,282.6 319.9,289.8 M350.7,276.7 Q355.1,281.4 360.6,278 M359.9,293.1 Q360.1,285.9 366.5,282.6 M374.4,300.3 Q384.7,298.8 386.2,288.5" fill="none" stroke="#363636" stroke-width="0.85"/>
<path d="M464.2,244.2 L467.8,244.9 L468.8,242.2 L535.6,242.2 L535.6,240.9 L536.4,241.2 L536.9,243.2 L540.8,243.5 L543.2,244.5 L546.1,244.9 L549,245.5 L547.3,246.9 L544.6,248.6 L542.9,249.7 L545.1,249.4 L547,250.3 L549.4,249.4 L551.4,248.2 L553.1,247.4 L551.9,249.1 L554.3,250.6 L556.2,250.7 L557.9,249.9 L560.1,249.7 L561,250.7 L562.2,250.6 L563.5,251.9 L561.5,252.4 L560.8,252.8 L559.1,251.9 L556.9,252.6 L555.5,253.3 L553.8,255.3 L552.8,257.1 L554,255.9 L555.5,254.6 L554.3,256.9 L553.8,258.6 L553.1,261.6 L553.3,264 L553.8,266 L554.5,267 L555.7,266.5 L556.5,265.3 L557.2,263 L556.5,260.3 L556.9,257.9 L558.1,255.9 L558.9,254.9 L560.1,254.3 L560.8,253 L562.2,253.9 L563.9,255.4 L564.2,257.3 L562.7,259.3 L563.7,260 L565,258.8 L566.1,260.3 L566.4,262.3 L566.1,263.6 L564.7,264.6 L563.8,266.6 L565.6,267.3 L568,267.3 L570.9,265.7 L572.6,265 L574.8,262.6 L574.6,261.3 L577,261.1 L580.4,260.6 L581.3,258.9 L583.5,256.3 L585,255.6 L592.7,255.6 L593.6,254.6 L594.4,254.3 L595.6,252.6 L596.3,249.9 L598.2,247.4 L600.4,247.7 L601.6,248.6 L601.6,252.6 L602.6,253.6 L603.5,256.3 L601.1,257.6 L598.7,258.9 L595.8,260 L594.6,262 L594.4,263.3 L594.1,264.3 L594.9,266 L596.3,265.5 L596.4,266.7 L595.1,267.2 L593.4,267.3 L591.7,268 L587.6,269 L586.6,270.3 L586.6,271.7 L585.9,273.7 L584.5,275.9 L584,276.4 L584,278 L583.7,279.1 L582.8,280.7 L581.8,282.1 L581.8,282.7 L582.3,284.7 L583,288.1 L580.6,290.1 L577.5,292.4 L575.5,292.8 L574.1,294.8 L572.2,296.8 L570,299.1 L569.3,300.8 L568.5,303.5 L568.8,305.8 L569.7,308.5 L570.7,311.2 L571.9,315.9 L572,319.2 L571.4,321.3 L570,322.1 L569.3,320.6 L567.8,318.9 L566.8,316.6 L565.6,313.6 L565.4,310.9 L564.9,308.9 L563.2,306.2 L561.5,305.8 L560.1,307 L559.1,306.9 L556.9,304.5 L554,304.8 L552.8,304.5 L551.9,304.5 L549.4,305.2 L549,305.5 L549.4,307.5 L549.9,309.2 L547.5,308.9 L545.1,308.2 L542.4,307.2 L538.8,306.9 L536.6,307.9 L535.2,309.5 L532.5,311.5 L530.6,313.9 L530.1,316.2 L530.6,319.2 L529.9,319.6 L528,318.9 L526,317.6 L525.1,314.2 L523.1,311.9 L521.4,306.9 L518.1,306.5 L516.4,309.2 L514.4,308.2 L512.5,306.2 L511.8,303.5 L509.4,301.2 L508.2,299.8 L504,299.8 L504,301.4 L497,301.4 L488.1,297.5 L488.3,296.8 L482.6,297.5 L482.1,295.5 L480.4,293.5 L479.2,292.4 L477.5,291.9 L474.3,290.8 L474.1,288.8 L472.4,286.8 L471,283.7 L469.8,281.7 L469.5,279.7 L468.3,279.1 L466.6,275.7 L466.4,273 L464.9,271 L465.6,269 L465.4,265.6 L464.7,263 L465.6,260 L465.9,256.9 L466.1,253.9 L465.9,251.2 L465.6,249.2 L464.4,245.9 Z" fill="#d1d2d4" stroke="#c8c8ca" stroke-width="0.4"/>
<path d="M465.9,251.4 L468.3,251.6 L473.1,253.4 L478,252.2 L483,252.2M482.7,242.2 L482.7,250.9 L483,252.2 L484,253.9 L482.8,257.9 L482.8,265.6M475.6,265.6 L475.6,275.7 L488.6,289.1M497.2,255.6 L514.1,255.6M497.2,257.3 L497.2,255.6M514.1,242.2 L514.1,269M514.1,252.5 L532.2,252.5M514.1,262.3 L527.5,262.3 L532.1,264M502,269 L502,301.4M489.9,282.4 L518.9,282.4M518.9,282.4 L536.9,282.4M516.6,284.1 L523.9,284.1 L523.9,290.6 L531.1,293.1 L537.1,293.8M538.2,294 L538.2,299.2 L538.8,302.5 L539.1,306.5M537.3,284.1 L537.3,287.8 L537.2,293.7M538.2,295.8 L545.2,295.8M545.2,295.8 L545.1,299.1 L544.1,302.5 L548.6,302.5 L549,305.2M532.4,260.6 L545.1,260.6M542.4,249.9 L542.4,251.9 L541.2,253.6 L541.5,256.3 L545.1,260.6M547,250.3 L550.4,251.9 L552.8,252.9 L553.8,255.3M544.6,271 L546.6,275.7 L547.5,277 L549.2,281.4 L550.2,282.5M554,266.5 L554,276.7 L553.1,279.7 L552.6,280.7M560.5,266.7 L560.5,275.4M550.2,282.5 L552.6,280.7 L555.2,279.4 L557.7,279.1 L558.1,278 L560.1,276.7 L560.5,275.4 L562.5,276.4 L564.9,276.7 L565.9,277.7 L567.3,275.7 L568.5,274.7 L570,273.4 L570.7,270.3M549.2,284.1 L563.2,283.7M550.2,282.5 L549.2,284.1 L548.7,285.8M558.6,289.1 L559.6,296.5 L560.1,299.1 L560.1,302.5M553.8,302.5 L560.1,302.5 L560.3,303.5 L566.8,303.8 L567.3,303.2 L568.5,303.5M564.7,289.1 L566.8,292.4 L569.7,298.8M564.7,289.1 L566.4,288.4 L569.7,288.8 L570,289.1 L571.9,289.8 L572.9,289.8 L575.8,293M568,283.9 L582.1,283.9M572.7,265.6 L583.4,265.6 L584,266.3 L585,267.8 L586.6,269M585,267.8 L584,269.7 L583.7,271.7 L583,273M570.9,273.3 L582.3,273.3M582.3,273.3 L582.3,277.5 L584.1,277.5M588.2,255.6 L588.3,260.3 L588.5,263.1M592.7,255.6 L591.5,257.9 L590.3,261.3 L590.4,263.2M588.5,263.2 L594.1,262.8M587.8,265.5 L592.9,265.6M587.8,263.1 L587.8,268.7M592,265.6 L592,268M593.7,254.6 L593.9,259.6 L594.6,262M464.2,244.2 L467.8,244.9 L468.8,242.2 L485.1,242.2 L485.1,245.5 L485.9,247.6 L488.6,250.1 L489.3,253.9 L491.4,255.9 L492.9,257.6 L497.2,257.3 L497.2,265.6 L482.8,265.6 L465.4,265.6 L464.7,263 L465.6,260 L465.9,256.9 L466.1,253.9 L465.9,251.2 L465.6,249.2 L464.4,245.9ZM485.1,242.2 L530.6,242.2 L531.6,250.2 L532.2,252.6 L532.4,254.6 L532.4,260.6 L532.1,264 L533.3,265.6 L533.8,268 L534,270.3 L535.2,272.3 L518.9,272.3 L518.9,269 L497.2,269 L497.2,257.3 L492.9,257.6 L491.4,255.9 L489.3,253.9 L488.6,250.1 L485.9,247.6 L485.1,245.5ZM465.4,265.6 L475.6,265.6 L489.9,265.6 L489.9,282.4 L489.9,285.1 L488.5,288.4 L488.6,289.4 L488.8,293.8 L488.3,296.8 L482.6,297.5 L482.1,295.5 L480.4,293.5 L479.2,292.4 L477.5,291.9 L474.3,290.8 L474.1,288.8 L472.4,286.8 L471,283.7 L469.8,281.7 L469.5,279.7 L468.3,279.1 L466.6,275.7 L466.4,273 L464.9,271 L465.6,269ZM489.9,265.6 L497.2,265.6 L497.2,269 L518.9,269 L518.9,282.4 L516.6,282.4 L516.6,284.1 L516.5,299.1 L507.9,299.1 L508.2,299.8 L504,299.8 L504,301.4 L497,301.4 L488.1,297.5 L488.3,296.8 L488.8,293.8 L488.6,289.4 L488.5,288.4 L489.9,285.1 L489.9,282.4ZM518.9,272.3 L535.2,272.3 L536.2,273 L536.9,275.4 L536.9,284.1 L547.6,284.1 L547.8,285.8 L548.7,285.8 L547.3,289.1 L552.3,289.1 L552.6,292.4 L551.9,299.5 L551.9,304.5 L549.4,305.2 L549,305.5 L549.4,307.5 L549.9,309.2 L547.5,308.9 L545.1,308.2 L542.4,307.2 L538.8,306.9 L536.6,307.9 L535.2,309.5 L532.5,311.5 L530.6,313.9 L530.1,316.2 L530.6,319.2 L529.9,319.6 L528,318.9 L526,317.6 L525.1,314.2 L523.1,311.9 L521.4,306.9 L518.1,306.5 L516.4,309.2 L514.4,308.2 L512.5,306.2 L511.8,303.5 L509.4,301.2 L507.9,299.1 L516.5,299.1 L516.6,284.1 L516.6,282.4 L518.9,282.4ZM530.6,242.2 L535.6,242.2 L535.6,240.9 L536.4,241.2 L536.9,243.2 L540.8,243.5 L543.2,244.5 L546.1,244.9 L549,245.5 L547.3,246.9 L544.6,248.6 L542.9,249.7 L545.1,249.4 L547,250.3 L549.4,249.4 L551.4,248.2 L553.1,247.4 L551.9,249.1 L554.3,250.6 L556.2,250.7 L557.9,249.9 L560.1,249.7 L561,250.7 L562.2,250.6 L563.5,251.9 L561.5,252.4 L560.8,252.8 L559.1,251.9 L556.9,252.6 L555.5,253.3 L553.8,255.3 L552.8,257.1 L554,255.9 L555.5,254.6 L554.3,256.9 L553.8,258.6 L553.1,261.6 L553.3,264 L546.5,264 L547.5,265.3 L546.6,267.3 L545.3,268.7 L544.6,271 L534,270.3 L533.8,268 L533.3,265.6 L532.1,264 L532.4,260.6 L532.4,254.6 L532.2,252.6 L531.6,250.2ZM555.7,266.5 L556.5,265.3 L557.2,263 L556.5,260.3 L556.9,257.9 L558.1,255.9 L558.9,254.9 L560.1,254.3 L560.8,253 L562.2,253.9 L563.9,255.4 L564.2,257.3 L562.7,259.3 L563.7,260 L565,258.8 L566.1,260.3 L566.4,262.3 L566.1,263.6 L564.7,264.6 L563.8,266.6 L560.6,266.7ZM553.3,264 L553.8,266 L554.5,267 L555.7,266.5 L560.6,266.7 L563.8,266.6 L565.6,267.3 L568,267.3 L570.9,265.7 L570.9,270.2 L570.9,273.3 L573.4,273.3 L573.4,275 L576,273.7 L577.7,274.7 L576.3,275.7 L574.6,277.4 L572.6,279.4 L571.4,280.7 L569.7,281.4 L567.3,280.7 L563.2,283.7 L568,283.7 L565.9,285.8 L563.7,287.1 L561.8,289.1 L558.6,289.1 L552.3,289.1 L547.3,289.1 L548.7,285.8 L547.8,285.8 L547.6,284.1 L536.9,284.1 L536.9,275.4 L536.2,273 L535.2,272.3 L534,270.3 L544.6,271 L545.3,268.7 L546.6,267.3 L547.5,265.3 L546.5,264ZM577.7,274.7 L579.2,276 L579.4,277.7 L581.1,279.1 L581.1,280.7 L581.8,282.7 L582.3,284.7 L583,288.1 L580.6,290.1 L577.5,292.4 L575.5,292.8 L574.1,294.8 L572.2,296.8 L570,299.1 L569.3,300.8 L568.5,303.5 L568.8,305.8 L569.7,308.5 L570.7,311.2 L571.9,315.9 L572,319.2 L571.4,321.3 L570,322.1 L569.3,320.6 L567.8,318.9 L566.8,316.6 L565.6,313.6 L565.4,310.9 L564.9,308.9 L563.2,306.2 L561.5,305.8 L560.1,307 L559.1,306.9 L556.9,304.5 L554,304.8 L552.8,304.5 L551.9,304.5 L551.9,299.5 L552.6,292.4 L552.3,289.1 L558.6,289.1 L561.8,289.1 L563.7,287.1 L565.9,285.8 L568,283.7 L563.2,283.7 L567.3,280.7 L569.7,281.4 L571.4,280.7 L572.6,279.4 L574.6,277.4 L576.3,275.7ZM570.9,265.7 L572.6,265 L574.8,262.6 L574.6,261.3 L577,261.1 L580.4,260.6 L581.3,258.9 L583.5,256.3 L585,255.6 L592.7,255.6 L593.6,254.6 L594.4,254.3 L595.6,252.6 L596.3,249.9 L598.2,247.4 L600.4,247.7 L601.6,248.6 L601.6,252.6 L602.6,253.6 L603.5,256.3 L601.1,257.6 L598.7,258.9 L595.8,260 L594.6,262 L594.4,263.3 L594.1,264.3 L594.9,266 L596.3,265.5 L596.4,266.7 L595.1,267.2 L593.4,267.3 L591.7,268 L587.6,269 L586.6,270.3 L586.6,271.7 L585.9,273.7 L584.5,275.9 L584,276.4 L584,278 L583.7,279.1 L581.1,279.1 L579.4,277.7 L579.2,276 L577.7,274.7 L576,273.7 L573.4,275 L573.4,273.3 L570.9,273.3 L570.9,270.2Z" fill="none" stroke="#a9abae" stroke-width="0.45" stroke-opacity="0.8"/>
<path d="M548.3,272.3h0.01M580.4,284.3h0.01M551.4,298.4h0.01M598.2,249.9h0.01M544,299.7h0.01M575.5,289.6h0.01M470.8,273.2h0.01M536.8,278.5h0.01M522.1,276h0.01M549.9,271.8h0.01M546.7,296.9h0.01M554.7,251.5h0.01M553.5,257.8h0.01M536.5,299.4h0.01M504.4,257.5h0.01M466.5,262.7h0.01M530.7,259.7h0.01M551.7,253.3h0.01M554.2,275.4h0.01M491.1,296.2h0.01M541.6,265h0.01M548.3,259.7h0.01M575.5,272.5h0.01M588.9,259h0.01M557.1,263.6h0.01M479,275.3h0.01M484.5,260.3h0.01M535.4,265.1h0.01M549.9,262h0.01M515.5,290.7h0.01M557.9,281h0.01M553.7,250.4h0.01M545.7,297.3h0.01M545.6,301.1h0.01M531,274.4h0.01M529.4,304.1h0.01M545,268.3h0.01M518.8,278.8h0.01M502.7,269.1h0.01M569.5,298.8h0.01M528,297.5h0.01M539.8,263.1h0.01M470.5,282h0.01M571.1,294.1h0.01M513.5,254.5h0.01M577.6,262.4h0.01M485,290.6h0.01M537.7,276.9h0.01M499.3,259.8h0.01M547.9,264.2h0.01M571.3,269.4h0.01M537.1,285.6h0.01M554.1,286.9h0.01M597.4,250.9h0.01M574.3,272.5h0.01M514.5,303.8h0.01M539.3,247.8h0.01M585.1,266.7h0.01M563.8,263.1h0.01M561.4,279.4h0.01M554.5,298.1h0.01M569.4,290.3h0.01M589.1,264.7h0.01M521.1,266h0.01M520.5,290.7h0.01M529.1,247.6h0.01M551.7,294.9h0.01M541.3,248.4h0.01M531.2,300.9h0.01M564.4,273.9h0.01M518.2,283.4h0.01M569.6,268.1h0.01M588.8,263.7h0.01M553.9,275.5h0.01M496.5,244.8h0.01M548.3,259.2h0.01M476.6,285.2h0.01M579.5,273.1h0.01M548.1,286.8h0.01M580.3,274.8h0.01M566.4,288.6h0.01M548.5,305.4h0.01M593.5,264.2h0.01M568,299.5h0.01M506.1,289.5h0.01M537.8,273.9h0.01M550.9,262.6h0.01M534.5,286.5h0.01M535.1,302.3h0.01M471.6,245.1h0.01M565.3,263.7h0.01M495.3,271.9h0.01M550.4,266.5h0.01M469.1,253.7h0.01M553.1,265.2h0.01M487.8,286.4h0.01M534.1,295.7h0.01M568,293h0.01M592.9,265.8h0.01M580.1,262.8h0.01M497.6,294.2h0.01M582.5,277.6h0.01M546.4,287.7h0.01M496,291.7h0.01M593.7,260.6h0.01M526.6,286.4h0.01M532.7,306.9h0.01M570.8,315h0.01M560.2,278h0.01M570.9,270.9h0.01M584.5,272.8h0.01M577.8,274.3h0.01M496,270.5h0.01M548.3,278.6h0.01M537.3,298.5h0.01M526.3,306.8h0.01M482.5,292.7h0.01M470.4,278.8h0.01M573.2,264.4h0.01M470,277.7h0.01M530.8,296.7h0.01M488.1,285.3h0.01M549.9,301.3h0.01M578.8,276.9h0.01M470.3,281.8h0.01M496.5,273.1h0.01M472.9,281.1h0.01M549,275.8h0.01M558.2,261.6h0.01M473,276.3h0.01M548.7,305.5h0.01M572.6,294.2h0.01M485.5,282.5h0.01M560.9,276.8h0.01M468.2,244.1h0.01M591.7,265.3h0.01M562.4,263.3h0.01M568,295.2h0.01M534,268.9h0.01M531.8,295.6h0.01M546.8,260.1h0.01M484.9,292h0.01M563.8,263.8h0.01M547.2,287h0.01M536.2,273.6h0.01M551.7,289.2h0.01M566.8,314.1h0.01M549.3,261.1h0.01M564.7,273.9h0.01M577.4,275.6h0.01M550.5,265.5h0.01M552.9,266.7h0.01M556.1,269.8h0.01M471.6,282.2h0.01M548.7,261.1h0.01M573.4,272.2h0.01M532.7,306.6h0.01M534.7,278.7h0.01M556.5,284h0.01M536.1,276.1h0.01M479,290.5h0.01M564.6,268.7h0.01M576,263.4h0.01M582.2,272.8h0.01M533,274.7h0.01M536.5,302.5h0.01M548.3,288.6h0.01M533.4,287.2h0.01M494.6,292.5h0.01M578.6,275.7h0.01M549.2,262.6h0.01M553.7,274.3h0.01M472.7,280.2h0.01M557.3,269.1h0.01M525.3,306.6h0.01M564.9,294.5h0.01M480.2,289.5h0.01M548.4,263.7h0.01M494.1,266.6h0.01M530.4,291.8h0.01M566,314h0.01M495.9,270.9h0.01M590.4,266.6h0.01M546.9,305.3h0.01M497,293.9h0.01M549.6,280.1h0.01M468.5,279h0.01M494.9,292.9h0.01M580,274.1h0.01M509.7,272.4h0.01M487.1,286h0.01M578.5,276.8h0.01M584.5,268.2h0.01M546.8,290.1h0.01M560.2,276h0.01M567.6,305.9h0.01M590.9,266.4h0.01M594.4,259.8h0.01M582.1,269.6h0.01M563.9,291.4h0.01M566.4,310.5h0.01M562.3,295.1h0.01M586.6,269.7h0.01M579.2,277.9h0.01M555.9,273.6h0.01M582,273.1h0.01M587.7,267.9h0.01M493.4,268.8h0.01M482.6,291.4h0.01M494.2,270h0.01M469.9,278.4h0.01M555.8,272.4h0.01M534.3,266h0.01M559,265.1h0.01M587,267.4h0.01M529.1,277.5h0.01M475.3,284.8h0.01M583.3,270.1h0.01M554.2,267.9h0.01M563,265.5h0.01M471.8,277.5h0.01M512.1,275.7h0.01M543.9,292.3h0.01M539.2,274.7h0.01M479.1,283.8h0.01M561.2,276.3h0.01M563.4,267.1h0.01M477.8,281.3h0.01M571.8,319.1h0.01M531.5,296.6h0.01M531.1,298h0.01M467.6,254.1h0.01M532.6,278.3h0.01M548.2,279.1h0.01M578.8,274.8h0.01M554.3,268.3h0.01M507.3,288.4h0.01M525.4,309h0.01M547.9,288.4h0.01M468.5,253h0.01M561.1,288.9h0.01M546.7,291.1h0.01M471,283h0.01M482.9,294h0.01M569.2,288h0.01M599.9,254.7h0.01M600.8,254.8h0.01M557.2,268.5h0.01M542.5,255.7h0.01M469,250.8h0.01M533.1,306.2h0.01M537,304.1h0.01M480.6,292.6h0.01M533.7,267.3h0.01M582.9,270.8h0.01M567.5,267.9h0.01M574.6,276.4h0.01M472.6,245.6h0.01M553.1,292.6h0.01M559.3,291.6h0.01M549.3,288.5h0.01M586.5,267.4h0.01M529.3,293.4h0.01M494.8,269.5h0.01M485.9,286h0.01M487.6,284.5h0.01M493.4,294.5h0.01M570.4,319.9h0.01M557.5,264.9h0.01M584.3,267.2h0.01M531.9,294.6h0.01M493.3,271.5h0.01M589.6,267.6h0.01M555.6,271.4h0.01M577.5,285.1h0.01M497.3,271.9h0.01M584.8,272.5h0.01M589.8,267.9h0.01M557.2,285.6h0.01M570.4,312.1h0.01M472.6,274.3h0.01M552.5,263.3h0.01M555.7,293.7h0.01M571.5,295h0.01M549.3,261.3h0.01M571.7,318.1h0.01M567.8,289.8h0.01M529,303.7h0.01M562.8,265.2h0.01M564,269.3h0.01M567.4,297.8h0.01M470.2,278.8h0.01M475.3,278.1h0.01M547,306.3h0.01M558.7,264h0.01M530.1,290.2h0.01M496.3,270.7h0.01M582.6,273.4h0.01M546,274.6h0.01M555.7,284h0.01M566.6,292.6h0.01M530.1,303.5h0.01M478.6,289.4h0.01M539.1,254.3h0.01M561.6,277.1h0.01M588.1,267.2h0.01M496.1,296.3h0.01M543.9,277.4h0.01M535.7,273.9h0.01M467.9,247.5h0.01M559.6,274.8h0.01M585.8,267.1h0.01M480.9,293.7h0.01M593.6,263.5h0.01M567.2,268.2h0.01M539.4,273.3h0.01M553.4,270.8h0.01M575,269.3h0.01M484,289.9h0.01M531.3,297h0.01M511.9,273.9h0.01M569.3,267.9h0.01M583.6,275.1h0.01M589,267.6h0.01M491.1,271h0.01M511.2,273.9h0.01M566.6,310h0.01M581.4,273.6h0.01M594.6,265.6h0.01M509.6,285.7h0.01M551.2,263.9h0.01M583,270.7h0.01M473.4,282h0.01M551.8,282.2h0.01M528.4,288.6h0.01M577.3,277.7h0.01M559.5,275.6h0.01M582.7,259h0.01M535.5,307.3h0.01M559,274.4h0.01M495,269.1h0.01M561.5,293.5h0.01M496.3,289.7h0.01M551.6,262.9h0.01M580.5,278.8h0.01M468,246h0.01M470.7,282.4h0.01M532.9,308.7h0.01M566.1,273.9h0.01M531.2,304h0.01M532.3,285.8h0.01M471.1,246.6h0.01M486.9,286.9h0.01M470.3,282.1h0.01M600,255.2h0.01M486.2,262.2h0.01M563.1,291.2h0.01M571.9,288.7h0.01M536,305.5h0.01M549.8,279.4h0.01M580.6,275h0.01M529.8,294.4h0.01M581.6,278.3h0.01M555.1,295.9h0.01M564.9,275.4h0.01M535.3,273.2h0.01M507.9,288.8h0.01" stroke="#2b83a0" stroke-width="1.5" stroke-linecap="round" stroke-opacity="0.9" fill="none"/>
<path d="M469.4,243.5 Q481,238.5 487.4,244.4 M474.7,249.6 Q485,262 476,273.3 M474.7,251.4 Q466,258 471.2,265.4 M476,273.3 Q478,283 482.1,281.2 M479.5,281 Q486,274 492.2,279.8 M487.4,285.5 Q488,280 492.2,282 M487.4,285.5 Q492,286 492.2,282 M492.2,279.8 Q496,275 495.3,268.9 M492.2,279.8 Q491,273 495.3,268.9 M495.3,268.9 Q500,262 498.8,253.1 M495.3,268.9 Q493,260 498.8,253.1 M498.8,253.1 Q502,250 500.5,248.8 M487.4,244.4 Q495,240 503.2,246.1 M487.4,244.4 Q495,250 503.2,246.1 M488,245.5 Q496,243 503.2,247.5 M489,243.5 Q497,238.5 504,245 M503.2,245.3 Q510,240 516.3,247 M503.2,245.3 Q510,249 516.3,247 M503.2,248.8 Q508,249 510.2,254 M504,253.1 Q498,262 508.4,270.6 M504,253.1 Q512,262 508.4,270.6 M506,252 Q500,262 506.5,271.5 M507,251 Q514,259 509.5,268 M514.5,247 Q519,253 515.4,259.3 M469.4,243.5 Q472,249 474.5,248.5 M469.4,243.5 Q473,244 474.7,249.6 M471,246 Q474,250 472.5,252 M490.9,248.8 Q494,249 495.3,250.5 M489.5,245 Q492,250 495.5,251 M476,273.3 Q472,280 474,285 M474,276 Q478,282 476.5,287 M533.4,268 Q532,273 537.8,276 M530.3,280.7 Q533,277 535.6,279.8 M546.5,263.6 Q545,270 548.3,276.8 M547.5,264 Q550,270 548.3,276.8 M550,265.4 Q552,263 553.5,266.3 M550,265.4 Q551,268 553.5,266.3 M553.5,261 Q558,257 563.6,262.3 M553.5,261 Q559,263 563.6,262.3 M557.9,268.9 Q561,264 564,262.3 M558.8,268.9 Q562,272 565.8,270.6 Q568,267 571,268 M550.9,282 Q553,279 555.7,279.8 M535.6,246.1 Q533.5,247 534.3,249.2 M544.8,245.3 Q547,248 549.6,245.3 M547,246 L547.5,248.8 M506.6,297.5 Q504,290 509.2,287.8 M497.5,297.5 Q502,290 506.6,297.5 M532.1,266.5 Q537,270 535.6,275.9 M561.3,296.9 Q568,300 568.3,307.4 M546.1,303.9 Q548.5,301 550.8,305.1 M598,262 Q599.4,257.8 596,255 M589,261 Q592.9,254.7 600,257 M589,261 Q593.8,258.9 598,262 M588.4,256 Q593.9,259.6 600,257 M593,263 Q591.2,260.8 592,258 M600,257 Q595.5,253.5 592,258 M589,261 Q589.3,258.3 592,258 M598,262 Q593.5,259.5 596,255 M596,255 Q592.9,255.1 592,258 M593,263 Q587.8,261.4 588.4,256 M577,267 Q574.2,269 576,272 M576,272 Q574,269 577,267 M577,267 Q575.8,273.3 582,275 M580,270 Q582.7,271.8 582,275 M578,279 Q579.7,274.7 576,272 M583,268 Q579.2,271 582,275" fill="none" stroke="#363636" stroke-width="0.85"/>
<text x="189.3" y="244.8" font-size="9.2" fill="#222" textLength="29.7" lengthAdjust="spacingAndGlyphs" style="font-family:'Liberation Serif',serif"><tspan font-style="italic">2L</tspan> = 112</text>
<text x="384.7" y="244.8" font-size="9.2" fill="#222" textLength="30.2" lengthAdjust="spacingAndGlyphs" style="font-family:'Liberation Serif',serif"><tspan font-style="italic">2L</tspan> = 508</text>
<text x="569.5" y="244.8" font-size="9.2" fill="#222" textLength="29.9" lengthAdjust="spacingAndGlyphs" style="font-family:'Liberation Serif',serif"><tspan font-style="italic">2L</tspan> = 404</text>
<rect x="183.2" y="340.2" width="16.8" height="115.7" fill="#e4e2f0"/>
<rect x="327.2" y="340.2" width="16.8" height="115.7" fill="#e4e2f0"/>
<rect x="552" y="340.2" width="16.8" height="115.7" fill="#e4e2f0"/>
<line x1="56.2" y1="340.2" x2="56.2" y2="454.7" stroke="#9a9a9a" stroke-width="1"/>
<line x1="247.9" y1="340.4" x2="247.9" y2="454.6" stroke="#a8a8a8" stroke-width="1"/>
<line x1="440.3" y1="340.4" x2="440.3" y2="454.6" stroke="#a8a8a8" stroke-width="1"/>
<polyline points="56.2,411.2 72.2,408 88.2,414.4 104.2,425.8 120.2,429.8 136.2,429.8 152.2,429.8 168.2,431.4 184.2,424.1 200.2,408 216.2,389.4 232.2,390.2 248.2,399.9 264.2,404.4 280.2,400.7 296.2,402.3 312.2,410.4 328.2,416.1 344.2,410 360.2,409.6 376.2,406.3 392.2,395.8 408.2,386.9 424.2,384 440.2,392.6 456.2,403.1 472.2,406.3 488.2,408.8 504.2,412 520.2,410.4 536.2,405.5 552.2,408.8 568.2,416.1 584.2,414.4 600.2,403.9 616.2,399.5" fill="none" stroke="#cfe5ee" stroke-width="1.35" stroke-linejoin="round"/>
<polyline points="56.2,404.7 72.2,396.6 88.2,400.7 104.2,408 120.2,411.2 136.2,414.4 152.2,415.2 168.2,416.9 184.2,414.4 200.2,408.8 216.2,399.1 232.2,391.8 248.2,393.8 264.2,397.4 280.2,401.5 296.2,404.7 312.2,409.6 328.2,413.6 344.2,410.4 360.2,407.2 376.2,403.9 392.2,397.4 408.2,392.1 424.2,389.4 440.2,392.6 456.2,393.4 472.2,394.2 488.2,404.7 504.2,406.3 520.2,393.4 536.2,377.2 552.2,376.9 568.2,382.9 584.2,386.1 600.2,372.4 616.2,359.7" fill="none" stroke="#b9b9b9" stroke-width="1.35" stroke-linejoin="round"/>
<polyline points="56.2,384 72.2,386.9 88.2,390.2 104.2,395 120.2,401.5 136.2,409.6 152.2,417.3 168.2,420.1 184.2,414.4 200.2,404.7 216.2,389.4 232.2,374.8 248.2,381.7 264.2,391.8 280.2,402.3 296.2,407.2 312.2,411.2 328.2,416.1 344.2,409 360.2,390.2 376.2,379.6 392.2,378.5 408.2,379.6 424.2,378.5 440.2,378.8 456.2,383.7 472.2,391.5 488.2,398.3 504.2,404.7 520.2,404.7 536.2,392.6 552.2,382.4 568.2,384.5 584.2,384.5 600.2,381.7 616.2,388.2" fill="none" stroke="#94cae4" stroke-width="1.35" stroke-linejoin="round"/>
<polyline points="56.2,349.4 72.2,361.2 88.2,381.5 104.2,402.5 120.2,414.4 136.2,420.1 152.2,422.9 168.2,426.6 184.2,416.1 200.2,395 216.2,378.8 232.2,386.9 248.2,393.8 264.2,392.1 280.2,390.2 296.2,398.3 312.2,412 328.2,428.7 344.2,424.5 360.2,408 376.2,386.6 392.2,386.4 408.2,385.6 424.2,389.4 440.2,393.8 456.2,401.5 472.2,401.5 488.2,408.8 504.2,420.9 520.2,424.1 536.2,412.8 552.2,399.9 568.2,400.2 584.2,395.8 600.2,392.1 616.2,404.7" fill="none" stroke="#f7cf7a" stroke-width="1.35" stroke-linejoin="round"/>
<polyline points="56.2,386.9 72.2,407.2 88.2,412 104.2,410.4 120.2,408 136.2,405.2 152.2,404.4 168.2,408.8 184.2,411.2 200.2,404.7 216.2,391.8 232.2,386.9 248.2,387.5 264.2,392.6 280.2,404.7 296.2,413.6 312.2,419.6 328.2,414.4 344.2,388 360.2,360.2 376.2,346.8 392.2,360.2 408.2,373.2 424.2,374.3 440.2,377.2 456.2,387.7 472.2,402.3 488.2,407.2 504.2,410.9 520.2,405.5 536.2,392.6 552.2,379.6 568.2,383.7 584.2,391.8 600.2,388.5 616.2,381.3" fill="none" stroke="#f4a05b" stroke-width="1.35" stroke-linejoin="round"/>
<polyline points="56.2,413.6 72.2,405.2 88.2,407.2 104.2,411.2 120.2,414.4 136.2,415.7 152.2,416.1 168.2,415.2 184.2,414.8 200.2,414.8 216.2,412.8 232.2,410.9 248.2,413.6 264.2,416.9 280.2,414.4 296.2,411.2 312.2,412 328.2,417.7 344.2,410 360.2,393.4 376.2,380.5 392.2,391.8 408.2,403.1 424.2,408 440.2,405.5 456.2,407.2 472.2,410.4 488.2,417.7 504.2,420.1 520.2,404.7 536.2,370 552.2,352.9 568.2,369.1 584.2,402.3 600.2,421.7 616.2,413.6" fill="none" stroke="#4e9cd2" stroke-width="1.35" stroke-linejoin="round"/>
<polyline points="56.2,420.1 72.2,412.8 88.2,409.6 104.2,406.3 120.2,400.7 136.2,395.8 152.2,397 168.2,408 184.2,414.4 200.2,405.5 216.2,389.4 232.2,387.7 248.2,393.4 264.2,391.8 280.2,384.5 296.2,384.5 312.2,385.6 328.2,380.1 344.2,383.2 360.2,393.4 376.2,403.1 392.2,402.3 408.2,397.4 424.2,394.2 440.2,392.6 456.2,391.8 472.2,388.5 488.2,392.6 504.2,398.3 520.2,395.8 536.2,388.2 552.2,393.4 568.2,408 584.2,416.1 600.2,409.6 616.2,392.6" fill="none" stroke="#ee6b4d" stroke-width="1.35" stroke-linejoin="round"/>
<polyline points="56.2,391.8 72.2,392.1 88.2,397.4 104.2,407.2 120.2,413.6 136.2,415.2 152.2,413.6 168.2,416.9 184.2,414.4 200.2,405.5 216.2,384.5 232.2,371.6 248.2,374.4 264.2,382.9 280.2,391.8 296.2,399.1 312.2,408 328.2,413.6 344.2,412.8 360.2,408 376.2,396.6 392.2,389.4 408.2,391.8 424.2,399.1 440.2,401.5 456.2,396.6 472.2,391.5 488.2,404.7 504.2,416.1 520.2,401.5 536.2,379.2 552.2,376.4 568.2,394.2 584.2,401.5 600.2,395 616.2,402.3" fill="none" stroke="#d9353d" stroke-width="1.35" stroke-linejoin="round"/>
<polyline points="56.2,384 72.2,380.1 88.2,386.9 104.2,395.8 120.2,396.6 136.2,397.9 152.2,402 168.2,408.8 184.2,406.7 200.2,395.8 216.2,378.8 232.2,370.4 248.2,373.2 264.2,378.8 280.2,387.7 296.2,398.3 312.2,406.7 328.2,408.8 344.2,403.5 360.2,396.6 376.2,392.6 392.2,388.5 408.2,382.9 424.2,378.8 440.2,379.6 456.2,384.5 472.2,391 488.2,401.5 504.2,406.3 520.2,396.6 536.2,380.5 552.2,386.9 568.2,398.3 584.2,402.3 600.2,387.7 616.2,370.7" fill="none" stroke="#3d6db5" stroke-width="1.35" stroke-linejoin="round"/>
<text x="52.2" y="345.2" font-size="7.6" text-anchor="end" fill="#222" >1</text>
<text x="52.2" y="368.3" font-size="7.6" text-anchor="end" fill="#222" >0.8</text>
<text x="52.2" y="390.5" font-size="7.6" text-anchor="end" fill="#222" >0.6</text>
<text x="52.2" y="413.2" font-size="7.6" text-anchor="end" fill="#222" >0.4</text>
<text x="52.2" y="436.6" font-size="7.6" text-anchor="end" fill="#222" >0.2</text>
<text x="52.2" y="457.9" font-size="7.6" text-anchor="end" fill="#222" >0</text>
<text transform="translate(30.6,392.3) rotate(-90)" font-size="13.4" text-anchor="middle" fill="#222" textLength="86" lengthAdjust="spacingAndGlyphs">Average Degree</text>
<line x1="627.9" y1="359.3" x2="638.8" y2="359.3" stroke="#3d6db5" stroke-width="1.5"/>
<text x="641.2" y="361.4" font-size="5.7" text-anchor="start" fill="#222" >Northeast</text>
<line x1="627.9" y1="366.6" x2="638.8" y2="366.6" stroke="#d9353d" stroke-width="1.5"/>
<text x="641.2" y="368.7" font-size="5.7" text-anchor="start" fill="#222" >Midwest</text>
<line x1="627.9" y1="373.8" x2="638.8" y2="373.8" stroke="#b9b9b9" stroke-width="1.5"/>
<text x="641.2" y="375.9" font-size="5.7" text-anchor="start" fill="#222" >Ohio Valley</text>
<line x1="627.9" y1="381.1" x2="638.8" y2="381.1" stroke="#cfe5ee" stroke-width="1.5"/>
<text x="641.2" y="383.2" font-size="5.7" text-anchor="start" fill="#222" >Southeast</text>
<line x1="627.9" y1="388.3" x2="638.8" y2="388.3" stroke="#4e9cd2" stroke-width="1.5"/>
<text x="641.2" y="390.4" font-size="5.7" text-anchor="start" fill="#222" textLength="43" lengthAdjust="spacingAndGlyphs" >Northern Rockies</text>
<line x1="627.9" y1="395.6" x2="638.8" y2="395.6" stroke="#ee6b4d" stroke-width="1.5"/>
<text x="641.2" y="397.7" font-size="5.7" text-anchor="start" fill="#222" >South</text>
<line x1="627.9" y1="402.8" x2="638.8" y2="402.8" stroke="#94cae4" stroke-width="1.5"/>
<text x="641.2" y="404.9" font-size="5.7" text-anchor="start" fill="#222" >Southwest</text>
<line x1="627.9" y1="410.1" x2="638.8" y2="410.1" stroke="#f7cf7a" stroke-width="1.5"/>
<text x="641.2" y="412.2" font-size="5.7" text-anchor="start" fill="#222" >Northwest</text>
<line x1="627.9" y1="417.3" x2="638.8" y2="417.3" stroke="#f4a05b" stroke-width="1.5"/>
<text x="641.2" y="419.4" font-size="5.7" text-anchor="start" fill="#222" >West</text>
<path d="M84.6,467 L87.6,467.6 L88.5,465.3 L102.2,465.3 L102.2,468.1 L102.9,469.8 L105.1,471.9 L105.7,475.1 L107.4,476.8 L108.7,478.2 L112.3,478 L112.3,485 L100.2,485 L85.6,485 L85,482.7 L85.8,480.2 L86,477.7 L86.2,475.1 L86,472.9 L85.8,471.2 L84.8,468.4 Z" fill="#fbf0cf" stroke="#4a4a4a" stroke-width="0.5" stroke-linejoin="round"/>
<path d="M83.9,489.3 L93.5,489.3 L107.2,489.3 L107.2,505.5 L107.2,508 L105.8,511.3 L105.9,512.2 L106.1,516.4 L105.7,519.4 L100.2,520 L99.7,518.1 L98.1,516.1 L97,515.2 L95.3,514.7 L92.4,513.5 L92.1,511.6 L90.5,509.7 L89.1,506.8 L88,504.8 L87.8,502.9 L86.6,502.2 L85,499 L84.8,496.4 L83.4,494.5 L84.1,492.5 Z" fill="#f9d7b4" stroke="#4a4a4a" stroke-width="0.5" stroke-linejoin="round"/>
<path d="M109.6,490.1 L116.5,490.1 L116.5,493.2 L137,493.2 L137,505.8 L134.8,505.8 L134.8,507.4 L134.7,521.5 L126.6,521.5 L126.8,522.1 L123,522.1 L123,523.6 L116.3,523.6 L107.9,519.9 L108.1,519.3 L108.6,516.5 L108.4,512.4 L108.2,511.4 L109.6,508.3 L109.6,505.8 Z" fill="#d9e8ee" stroke="#4a4a4a" stroke-width="0.5" stroke-linejoin="round"/>
<path d="M105,463.5 L150,463.5 L150.9,471.6 L151.5,473.9 L151.8,475.9 L151.8,482 L151.4,485.3 L152.6,487 L153.1,489.3 L153.3,491.7 L154.5,493.7 L138.4,493.7 L138.4,490.3 L116.9,490.3 L116.9,478.6 L112.8,478.9 L111.2,477.3 L109.2,475.2 L108.5,471.4 L105.8,468.9 L105,466.9 Z" fill="#c4d5ea" stroke="#4a4a4a" stroke-width="0.5" stroke-linejoin="round"/>
<path d="M140.6,498.3 L155.3,498.3 L156.2,498.9 L156.8,501 L156.8,508.9 L166.5,508.9 L166.6,510.4 L167.5,510.4 L166.2,513.4 L170.8,513.4 L171,516.5 L170.3,522.8 L170.3,527.4 L168.2,528 L167.7,528.3 L168.2,530.1 L168.6,531.6 L166.4,531.3 L164.2,530.7 L161.9,529.8 L158.6,529.5 L156.6,530.4 L155.3,531.9 L152.9,533.7 L151.2,535.9 L150.7,538 L151.2,540.7 L150.5,541 L148.8,540.4 L147,539.2 L146.2,536.2 L144.4,534 L142.9,529.5 L139.8,529.2 L138.3,531.6 L136.6,530.7 L134.8,528.9 L134.2,526.5 L132,524.3 L130.7,522.5 L138.4,522.5 L138.5,508.9 L138.5,507.4 L140.6,507.4 Z" fill="#f4c3a5" stroke="#4a4a4a" stroke-width="0.5" stroke-linejoin="round"/>
<path d="M152.2,463.7 L157.2,463.7 L157.2,462.4 L158.1,462.7 L158.6,464.7 L162.5,465.1 L165,466.1 L167.9,466.4 L170.9,467.1 L169.2,468.5 L166.5,470.2 L164.7,471.4 L167,471 L168.9,472 L171.4,471.1 L173.4,469.8 L175.1,469 L173.8,470.7 L176.3,472.2 L178.3,472.4 L180,471.5 L182.2,471.4 L183.2,472.4 L184.4,472.2 L185.6,473.6 L183.7,474.1 L182.9,474.4 L181.2,473.6 L179,474.3 L177.5,474.9 L175.8,477 L174.8,478.9 L176.1,477.7 L177.5,476.3 L176.3,478.7 L175.8,480.4 L175.1,483.5 L175.3,485.8 L168.3,485.8 L169.4,487.2 L168.4,489.3 L167.2,490.6 L166.5,493 L155.6,492.3 L155.4,489.9 L154.9,487.5 L153.7,485.8 L154,482.4 L154,476.3 L153.8,474.3 L153.2,471.9 ZM177.8,488.4 L178.5,487.2 L179.3,484.8 L178.5,482.1 L179,479.7 L180.2,477.7 L181,476.6 L182.2,476 L182.9,474.7 L184.4,475.6 L186.1,477.2 L186.4,479 L184.9,481.1 L185.9,481.8 L187.2,480.6 L188.4,482.1 L188.6,484.1 L188.4,485.5 L186.9,486.5 L186,488.5 L182.7,488.6 Z" fill="#eca690" stroke="#4a4a4a" stroke-width="0.5" stroke-linejoin="round"/>
<path d="M175.3,486.4 L175.7,488.5 L176.4,489.6 L177.6,489 L182.2,489.2 L185.4,489.1 L187.1,489.9 L189.5,489.9 L192.2,488.2 L192.2,492.9 L192.2,496.1 L194.6,496.1 L194.6,498 L197.2,496.6 L198.8,497.6 L197.4,498.7 L195.8,500.4 L193.9,502.5 L192.7,503.9 L191.1,504.6 L188.8,503.9 L184.8,507.1 L189.5,507.1 L187.4,509.2 L185.3,510.6 L183.4,512.7 L180.4,512.7 L174.3,512.7 L169.4,512.7 L170.8,509.2 L169.9,509.2 L169.8,507.4 L159.4,507.4 L159.4,498.3 L158.7,495.9 L157.8,495.2 L156.6,493.1 L166.9,493.8 L167.6,491.3 L168.7,489.9 L169.7,487.8 L168.6,486.4 Z" fill="#f6f6e3" stroke="#4a4a4a" stroke-width="0.5" stroke-linejoin="round"/>
<path d="M199.8,501 L201.2,502.3 L201.4,503.8 L202.9,505.1 L202.9,506.7 L203.6,508.5 L204,510.4 L204.7,513.6 L202.5,515.5 L199.6,517.7 L197.9,518 L196.5,519.9 L194.8,521.8 L192.8,524 L192.1,525.5 L191.4,528 L191.7,530.2 L192.5,532.8 L193.4,535.3 L194.5,539.7 L194.6,542.8 L194.1,544.7 L192.8,545.5 L192.1,544.1 L190.8,542.5 L189.9,540.3 L188.8,537.5 L188.6,535 L188.1,533.1 L186.6,530.6 L185,530.2 L183.7,531.3 L182.8,531.2 L180.8,529 L178.2,529.3 L177.1,529 L176.2,529 L176.2,524.3 L176.9,517.7 L176.6,514.5 L182.4,514.5 L185.3,514.5 L187,512.6 L189,511.4 L191,509.5 L186.6,509.5 L190.3,506.7 L192.5,507.3 L194.1,506.7 L195.2,505.4 L197,503.5 L198.5,501.9 Z" fill="#eef4f4" stroke="#4a4a4a" stroke-width="0.5" stroke-linejoin="round"/>
<path d="M193.7,487.6 L195.6,486.8 L197.9,484.3 L197.6,482.9 L200.2,482.7 L203.8,482.2 L204.9,480.4 L207.2,477.6 L208.8,476.9 L217.1,476.9 L218.1,475.8 L218.9,475.5 L220.2,473.7 L220.9,470.9 L223,468.2 L225.3,468.6 L226.6,469.4 L226.6,473.7 L227.7,474.8 L228.7,477.6 L226.1,479 L223.5,480.4 L220.4,481.5 L219.1,483.6 L218.9,485 L218.6,486.1 L219.4,487.9 L220.9,487.3 L221.1,488.6 L219.6,489.1 L217.8,489.3 L216,490 L211.6,491.1 L210.6,492.5 L210.6,493.9 L209.8,496 L208.2,498.3 L207.7,498.9 L207.7,500.6 L207.5,501.7 L204.6,501.7 L202.8,500.3 L202.6,498.5 L201,497.1 L199.2,496 L196.4,497.4 L196.4,495.6 L193.7,495.6 L193.7,492.3 Z" fill="#a9b6e0" stroke="#4a4a4a" stroke-width="0.5" stroke-linejoin="round"/>
<path d="M279.9,464.1 L281.7,464.4 L282.2,463.1 L290.5,463.1 L290.5,464.7 L291,465.7 L292.3,466.9 L292.7,468.8 L293.7,469.8 L294.5,470.6 L296.7,470.4 L296.7,474.5 L289.4,474.5 L280.5,474.5 L280.1,473.2 L280.6,471.7 L280.8,470.3 L280.9,468.8 L280.8,467.5 L280.6,466.5 L280,464.9 Z" fill="#fbf0cf" stroke="#4a4a4a" stroke-width="0.5" stroke-linejoin="round"/>
<path d="M276.1,486.9 L283.4,486.9 L293.6,486.9 L293.6,497.8 L293.6,499.5 L292.6,501.7 L292.6,502.4 L292.8,505.2 L292.5,507.2 L288.3,507.6 L288,506.3 L286.8,505 L285.9,504.3 L284.7,504 L282.5,503.2 L282.3,501.9 L281.1,500.6 L280.1,498.7 L279.2,497.4 L279.1,496.1 L278.2,495.6 L277,493.4 L276.8,491.7 L275.8,490.4 L276.3,489.1 Z" fill="#f9d7b4" stroke="#4a4a4a" stroke-width="0.5" stroke-linejoin="round"/>
<path d="M305.2,488.2 L310.1,488.2 L310.1,490.2 L324.7,490.2 L324.7,498.4 L323.2,498.4 L323.2,499.4 L323.1,508.6 L317.3,508.6 L317.5,509 L314.7,509 L314.7,510 L310,510 L304,507.6 L304.2,507.2 L304.5,505.4 L304.3,502.7 L304.2,502.1 L305.2,500.1 L305.2,498.4 Z" fill="#d9e8ee" stroke="#4a4a4a" stroke-width="0.5" stroke-linejoin="round"/>
<path d="M307.2,464.1 L333,464.1 L333.5,468.5 L333.9,469.8 L334,470.9 L334,474.2 L333.8,476 L334.5,476.9 L334.8,478.2 L334.9,479.5 L335.6,480.6 L326.4,480.6 L326.4,478.8 L314,478.8 L314,472.4 L311.6,472.5 L310.8,471.6 L309.6,470.5 L309.2,468.4 L307.7,467 L307.2,465.9 Z" fill="#c4d5ea" stroke="#4a4a4a" stroke-width="0.5" stroke-linejoin="round"/>
<path d="M331.7,487.5 L350,487.5 L351.1,488.2 L351.9,490.6 L351.9,499.6 L364,499.6 L364.2,501.3 L365.2,501.3 L363.6,504.7 L369.3,504.7 L369.6,508.2 L368.8,515.4 L368.8,520.6 L366.1,521.3 L365.5,521.6 L366.1,523.7 L366.6,525.4 L363.9,525.1 L361.2,524.4 L358.2,523.3 L354.1,523 L351.7,524 L350,525.8 L347,527.8 L344.9,530.2 L344.3,532.7 L344.9,535.8 L344,536.1 L341.9,535.4 L339.7,534 L338.6,530.6 L336.4,528.2 L334.5,523 L330.7,522.7 L328.8,525.4 L326.6,524.4 L324.5,522.3 L323.7,519.6 L320.9,517.1 L319.3,515.1 L329,515.1 L329.1,499.6 L329.1,497.8 L331.7,497.8 Z" fill="#f3c0a2" stroke="#4a4a4a" stroke-width="0.5" stroke-linejoin="round"/>
<path d="M353.6,463.1 L356.8,463.1 L356.8,462.4 L357.4,462.6 L357.7,463.7 L360.2,463.9 L361.8,464.5 L363.7,464.7 L365.6,465.1 L364.5,465.9 L362.7,466.8 L361.6,467.5 L363,467.3 L364.3,467.9 L365.9,467.3 L367.1,466.6 L368.2,466.2 L367.5,467.1 L369,468 L370.3,468.1 L371.4,467.6 L372.8,467.5 L373.4,468.1 L374.2,468 L375,468.8 L373.8,469.1 L373.3,469.3 L372.2,468.8 L370.8,469.2 L369.8,469.6 L368.7,470.7 L368.1,471.8 L368.9,471.1 L369.8,470.4 L369,471.7 L368.7,472.7 L368.2,474.4 L368.4,475.8 L363.9,475.8 L364.6,476.6 L364,477.8 L363.2,478.5 L362.7,479.9 L355.8,479.5 L355.6,478.1 L355.3,476.8 L354.5,475.8 L354.8,473.9 L354.8,470.4 L354.6,469.2 L354.2,467.8 ZM370,477.2 L370.4,476.6 L370.9,475.2 L370.4,473.7 L370.8,472.3 L371.5,471.1 L372,470.5 L372.8,470.2 L373.3,469.4 L374.2,470 L375.3,470.8 L375.5,471.9 L374.5,473.1 L375.2,473.5 L376,472.8 L376.7,473.7 L376.9,474.8 L376.7,475.6 L375.8,476.2 L375.2,477.3 L373.1,477.4 Z" fill="#eba38c" stroke="#4a4a4a" stroke-width="0.5" stroke-linejoin="round"/>
<path d="M371.9,484 L372.3,485.3 L372.8,486 L373.7,485.6 L377.1,485.7 L379.4,485.7 L380.7,486.2 L382.4,486.2 L384.5,485.1 L384.5,488 L384.5,490 L386.2,490 L386.2,491.2 L388.1,490.3 L389.3,491 L388.3,491.6 L387.1,492.7 L385.7,494 L384.8,494.9 L383.6,495.3 L381.9,494.9 L379,496.8 L382.4,496.8 L380.9,498.1 L379.3,499 L378,500.3 L375.7,500.3 L371.3,500.3 L367.7,500.3 L368.7,498.1 L368,498.1 L367.9,497 L360.3,497 L360.3,491.4 L359.7,489.9 L359.1,489.4 L358.2,488.1 L365.8,488.6 L366.3,487 L367.1,486.2 L367.8,484.9 L367.1,484 Z" fill="#f6f6e3" stroke="#4a4a4a" stroke-width="0.5" stroke-linejoin="round"/>
<path d="M394.4,500 L395.4,500.9 L395.6,501.9 L396.7,502.8 L396.7,503.9 L397.3,505.2 L397.6,506.5 L398.1,508.7 L396.4,509.9 L394.2,511.5 L392.8,511.7 L391.8,513 L390.5,514.3 L388.9,515.8 L388.4,516.9 L387.9,518.6 L388.1,520.1 L388.8,521.8 L389.4,523.6 L390.3,526.6 L390.4,528.8 L390,530.1 L388.9,530.6 L388.4,529.6 L387.4,528.5 L386.7,527 L385.9,525.1 L385.7,523.4 L385.4,522.1 L384.2,520.3 L383,520.1 L382,520.9 L381.3,520.8 L379.8,519.2 L377.7,519.5 L376.9,519.2 L376.2,519.2 L376.2,516 L376.7,511.5 L376.5,509.3 L381,509.3 L383.2,509.3 L384.5,508 L386,507.1 L387.6,505.8 L384.2,505.8 L387.1,503.9 L388.8,504.3 L390,503.9 L390.8,503 L392.2,501.7 L393.3,500.6 Z" fill="#eef4f4" stroke="#4a4a4a" stroke-width="0.5" stroke-linejoin="round"/>
<path d="M398.1,479.9 L399.2,479.5 L400.7,478.1 L400.5,477.3 L402.1,477.2 L404.3,476.9 L404.9,475.9 L406.4,474.3 L407.3,473.9 L412.4,473.9 L413,473.3 L413.5,473.1 L414.3,472.1 L414.8,470.5 L416,469 L417.4,469.2 L418.2,469.7 L418.2,472.1 L418.9,472.7 L419.5,474.3 L417.9,475.1 L416.3,475.9 L414.4,476.5 L413.6,477.7 L413.5,478.5 L413.3,479.1 L413.8,480.1 L414.8,479.8 L414.8,480.5 L414,480.8 L412.9,480.9 L411.7,481.3 L409.1,481.9 L408.4,482.7 L408.4,483.5 L407.9,484.7 L407,486 L406.7,486.3 L406.7,487.3 L406.5,487.9 L404.8,487.9 L403.7,487.1 L403.5,486.1 L402.6,485.3 L401.5,484.7 L399.7,485.5 L399.7,484.5 L398.1,484.5 L398.1,482.6 Z" fill="#a6b3df" stroke="#4a4a4a" stroke-width="0.5" stroke-linejoin="round"/>
<path d="M461.6,463.6 L464.3,464.1 L465,462 L477,462 L477,464.6 L477.6,466.2 L479.6,468.2 L480.1,471.2 L481.6,472.8 L482.8,474.2 L485.9,473.9 L485.9,480.5 L475.3,480.5 L462.5,480.5 L462,478.4 L462.7,476 L462.8,473.6 L463,471.2 L462.8,469.1 L462.7,467.6 L461.8,464.9 Z" fill="#fbf0cf" stroke="#4a4a4a" stroke-width="0.5" stroke-linejoin="round"/>
<path d="M458.7,488.2 L468.3,488.2 L481.9,488.2 L481.9,504.3 L481.9,506.9 L480.5,510.1 L480.6,511.1 L480.8,515.3 L480.4,518.2 L474.9,518.8 L474.4,516.9 L472.8,514.9 L471.7,514 L470.1,513.5 L467.1,512.4 L466.9,510.4 L465.3,508.5 L463.9,505.6 L462.8,503.7 L462.5,501.7 L461.4,501.1 L459.8,497.9 L459.6,495.3 L458.2,493.4 L458.9,491.4 Z" fill="#f9d7b4" stroke="#4a4a4a" stroke-width="0.5" stroke-linejoin="round"/>
<path d="M487.6,489.2 L494.2,489.2 L494.2,492.3 L514,492.3 L514,504.9 L511.9,504.9 L511.9,506.5 L511.8,520.6 L504,520.6 L504.2,521.2 L500.4,521.2 L500.4,522.7 L494.1,522.7 L485.9,519 L486.1,518.4 L486.6,515.6 L486.3,511.5 L486.2,510.5 L487.6,507.4 L487.6,504.9 Z" fill="#d9e8ee" stroke="#4a4a4a" stroke-width="0.5" stroke-linejoin="round"/>
<path d="M478.3,457.2 L530.1,457.2 L531.2,466.6 L531.9,469.4 L532.1,471.8 L532.1,478.8 L531.7,482.8 L533.1,484.7 L533.7,487.5 L533.9,490.2 L535.3,492.6 L516.8,492.6 L516.8,488.7 L492,488.7 L492,474.9 L487.2,475.3 L485.4,473.3 L483.1,471 L482.3,466.4 L479.3,463.5 L478.3,461.1 Z" fill="#c4d5ea" stroke="#4a4a4a" stroke-width="0.5" stroke-linejoin="round"/>
<path d="M523.5,506.2 L532.8,506.2 L533.3,506.6 L533.7,508 L533.7,513.2 L539.8,513.2 L539.9,514.2 L540.4,514.2 L539.6,516.2 L542.5,516.2 L542.6,518.2 L542.2,522.3 L542.2,525.3 L540.8,525.7 L540.5,525.9 L540.8,527.1 L541.1,528.1 L539.7,527.9 L538.4,527.5 L536.9,526.9 L534.8,526.7 L533.6,527.3 L532.8,528.3 L531.2,529.5 L530.2,530.9 L529.9,532.3 L530.2,534.1 L529.7,534.3 L528.7,533.9 L527.6,533.1 L527,531.1 L525.9,529.7 L525,526.7 L523,526.5 L522.1,528.1 L521,527.5 L519.9,526.3 L519.5,524.7 L518.1,523.3 L517.3,522.1 L522.2,522.1 L522.2,513.2 L522.2,512.2 L523.5,512.2 Z" fill="#f4c3a5" stroke="#4a4a4a" stroke-width="0.5" stroke-linejoin="round"/>
<path d="M536.4,462.6 L540.4,462.6 L540.4,461.6 L541,461.8 L541.4,463.4 L544.5,463.7 L546.4,464.5 L548.8,464.8 L551.1,465.3 L549.7,466.4 L547.6,467.8 L546.3,468.7 L548,468.4 L549.5,469.2 L551.5,468.5 L553,467.5 L554.4,466.8 L553.4,468.2 L555.3,469.4 L556.9,469.5 L558.2,468.9 L560,468.7 L560.7,469.5 L561.7,469.4 L562.7,470.5 L561.1,470.9 L560.6,471.2 L559.2,470.5 L557.5,471 L556.3,471.6 L555,473.2 L554.2,474.7 L555.1,473.7 L556.3,472.6 L555.3,474.5 L555,475.9 L554.4,478.3 L554.6,480.2 L549.1,480.2 L549.9,481.3 L549.2,482.9 L548.2,484 L547.6,485.9 L539.1,485.4 L538.9,483.5 L538.5,481.6 L537.6,480.2 L537.8,477.5 L537.8,472.6 L537.7,471 L537.2,469.1 ZM556.5,482.2 L557.1,481.3 L557.7,479.4 L557.1,477.2 L557.5,475.3 L558.4,473.7 L559,472.9 L560,472.4 L560.6,471.3 L561.7,472.1 L563.1,473.3 L563.3,474.8 L562.1,476.4 L562.9,477 L563.9,476 L564.8,477.2 L565,478.9 L564.8,479.9 L563.6,480.8 L563,482.3 L560.4,482.4 Z" fill="#eca690" stroke="#4a4a4a" stroke-width="0.5" stroke-linejoin="round"/>
<path d="M557.3,488.2 L557.6,489.7 L558.1,490.5 L559,490.1 L562.4,490.2 L564.7,490.1 L566,490.7 L567.7,490.7 L569.7,489.5 L569.7,492.9 L569.7,495.2 L571.5,495.2 L571.5,496.5 L573.3,495.5 L574.5,496.3 L573.5,497 L572.3,498.3 L570.9,499.8 L570.1,500.8 L568.9,501.3 L567.2,500.8 L564.3,503.1 L567.7,503.1 L566.1,504.6 L564.6,505.6 L563.2,507.1 L561,507.1 L556.6,507.1 L553,507.1 L554,504.6 L553.3,504.6 L553.2,503.3 L545.6,503.3 L545.6,496.8 L545.1,495 L544.5,494.5 L543.6,493 L551.1,493.5 L551.6,491.7 L552.5,490.7 L553.2,489.2 L552.4,488.2 Z" fill="#f6f6e3" stroke="#4a4a4a" stroke-width="0.5" stroke-linejoin="round"/>
<path d="M577.6,511.8 L578.3,512.5 L578.4,513.4 L579.3,514.1 L579.3,514.9 L579.7,516 L579.9,517 L580.3,518.8 L579.1,519.8 L577.4,521.1 L576.5,521.2 L575.7,522.3 L574.7,523.3 L573.6,524.5 L573.2,525.4 L572.9,526.8 L573,528 L573.5,529.4 L574,530.8 L574.6,533.3 L574.7,535 L574.3,536.1 L573.6,536.5 L573.2,535.7 L572.5,534.8 L572,533.6 L571.4,532 L571.2,530.7 L571,529.6 L570.1,528.2 L569.3,528 L568.5,528.6 L568,528.6 L566.9,527.3 L565.4,527.5 L564.8,527.3 L564.3,527.3 L564.3,524.7 L564.7,521.1 L564.5,519.3 L567.8,519.3 L569.4,519.3 L570.4,518.3 L571.5,517.6 L572.6,516.5 L570.1,516.5 L572.2,514.9 L573.5,515.3 L574.3,514.9 L575,514.2 L576,513.2 L576.8,512.3 Z" fill="#eef4f4" stroke="#4a4a4a" stroke-width="0.5" stroke-linejoin="round"/>
<path d="M585.4,483.7 L586.4,483.3 L587.6,482 L587.5,481.2 L588.8,481.1 L590.8,480.8 L591.3,479.8 L592.5,478.3 L593.4,477.9 L597.7,477.9 L598.3,477.3 L598.7,477.1 L599.4,476.2 L599.8,474.6 L600.9,473.2 L602.1,473.4 L602.8,473.9 L602.8,476.2 L603.4,476.8 L603.9,478.3 L602.5,479.1 L601.2,479.8 L599.5,480.4 L598.8,481.6 L598.7,482.3 L598.6,482.9 L599,483.9 L599.8,483.6 L599.9,484.3 L599.1,484.6 L598.2,484.7 L597.2,485 L594.9,485.6 L594.3,486.4 L594.3,487.2 L593.9,488.3 L593.1,489.6 L592.8,489.9 L592.8,490.8 L592.7,491.4 L591.2,491.4 L590.2,490.6 L590.1,489.7 L589.3,488.9 L588.3,488.3 L586.8,489.1 L586.8,488.1 L585.4,488.1 L585.4,486.3 Z" fill="#a0aedc" stroke="#4a4a4a" stroke-width="0.5" stroke-linejoin="round"/>
<text x="0" y="238.8" font-size="14" text-anchor="start" fill="#111" font-weight="bold" >a.</text>
<text x="58.8" y="318.8" font-size="14" text-anchor="start" fill="#111" font-weight="bold" >b.</text>
<text x="257.5" y="318.9" font-size="14" text-anchor="start" fill="#111" font-weight="bold" >c.</text>
<text x="457.2" y="318.8" font-size="14" text-anchor="start" fill="#111" font-weight="bold" >d.</text>
<text x="0.3" y="470.1" font-size="14" text-anchor="start" fill="#111" font-weight="bold" >e.</text>
<text x="48.6" y="541.3" font-size="14" text-anchor="start" fill="#111" font-weight="bold" >f.</text>
<text x="265.6" y="541.6" font-size="14" text-anchor="start" fill="#111" font-weight="bold" >g.</text>
<text x="448" y="541.6" font-size="14" text-anchor="start" fill="#111" font-weight="bold" >h.</text>
<text x="149.9" y="560.8" font-size="11.6" text-anchor="middle" fill="#1e1e1e" textLength="135.2" lengthAdjust="spacingAndGlyphs" >Sep. 2019, no major impact</text>
<text x="345.5" y="560.8" font-size="11.6" text-anchor="middle" fill="#1e1e1e" textLength="154.7" lengthAdjust="spacingAndGlyphs" >Jun. 2020, Saharan dust impact</text>
<text x="527.1" y="560.8" font-size="11.6" text-anchor="middle" fill="#1e1e1e" textLength="130.5" lengthAdjust="spacingAndGlyphs" >Aug. 2021, Wildfire impact</text>
<text x="150.2" y="572.1" font-size="8.4" text-anchor="middle" fill="#1e1e1e" textLength="64" lengthAdjust="spacingAndGlyphs" >μ = 0.38, σ = 0.06</text>
<text x="346.1" y="572.1" font-size="8.4" text-anchor="middle" fill="#1e1e1e" textLength="64" lengthAdjust="spacingAndGlyphs" >μ = 0.39, σ = 0.14</text>
<text x="527.3" y="572.1" font-size="8.4" text-anchor="middle" fill="#1e1e1e" textLength="64" lengthAdjust="spacingAndGlyphs" >μ = 0.67, σ = 0.17</text>
</svg>
</body></html>
